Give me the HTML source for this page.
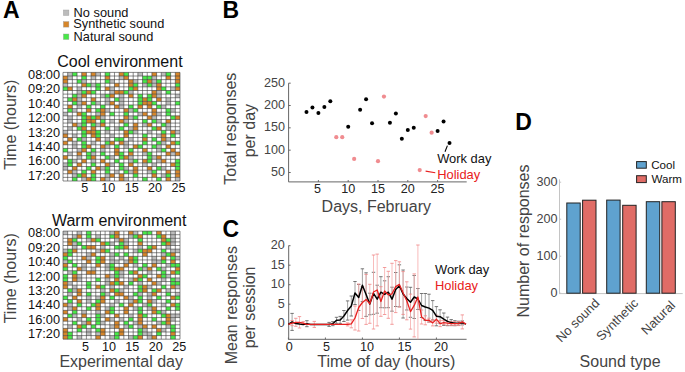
<!DOCTYPE html>
<html><head><meta charset="utf-8"><style>
html,body{margin:0;padding:0;background:#fff;}
svg{display:block;font-family:"Liberation Sans", sans-serif;}
</style></head><body>
<svg width="685" height="372" viewBox="0 0 685 372">
<rect width="685" height="372" fill="#fff"/>
<text x="2.9" y="18" font-size="23" fill="#000" text-anchor="start" font-weight="bold" >A</text>
<text x="222.5" y="18" font-size="23" fill="#000" text-anchor="start" font-weight="bold" >B</text>
<text x="222.6" y="236.9" font-size="23" fill="#000" text-anchor="start" font-weight="bold" >C</text>
<text x="515.3" y="130" font-size="23" fill="#000" text-anchor="start" font-weight="bold" >D</text>
<rect x="63.4" y="10.0" width="5.5" height="5.5" fill="#bcbcbc" stroke="#999" stroke-width="0.4"/>
<rect x="63.4" y="21.6" width="5.5" height="5.5" fill="#d6862a" stroke="#999" stroke-width="0.4"/>
<rect x="63.4" y="34.0" width="5.5" height="5.5" fill="#48e848" stroke="#999" stroke-width="0.4"/>
<text x="73.6" y="16.5" font-size="12.8" fill="#111" text-anchor="start" font-weight="normal" >No sound</text>
<text x="73.3" y="28.4" font-size="12.8" fill="#111" text-anchor="start" font-weight="normal" >Synthetic sound</text>
<text x="73.6" y="40.6" font-size="12.8" fill="#111" text-anchor="start" font-weight="normal" >Natural sound</text>
<text x="57.2" y="66.6" font-size="16" fill="#111" text-anchor="start" font-weight="normal" >Cool environment</text>
<rect x="63.0" y="72.4" width="117.0" height="108.6" fill="#fff"/>
<rect x="67.68" y="72.40" width="4.68" height="3.62" fill="#bcbcbc"/>
<rect x="72.36" y="72.40" width="4.68" height="3.62" fill="#48e848"/>
<rect x="81.72" y="72.40" width="4.68" height="3.62" fill="#d6862a"/>
<rect x="91.08" y="72.40" width="4.68" height="3.62" fill="#d6862a"/>
<rect x="95.76" y="72.40" width="4.68" height="3.62" fill="#bcbcbc"/>
<rect x="105.12" y="72.40" width="4.68" height="3.62" fill="#48e848"/>
<rect x="119.16" y="72.40" width="4.68" height="3.62" fill="#d6862a"/>
<rect x="123.84" y="72.40" width="4.68" height="3.62" fill="#48e848"/>
<rect x="137.88" y="72.40" width="4.68" height="3.62" fill="#bcbcbc"/>
<rect x="151.92" y="72.40" width="4.68" height="3.62" fill="#d6862a"/>
<rect x="161.28" y="72.40" width="4.68" height="3.62" fill="#bcbcbc"/>
<rect x="165.96" y="72.40" width="4.68" height="3.62" fill="#48e848"/>
<rect x="175.32" y="72.40" width="4.68" height="3.62" fill="#d6862a"/>
<rect x="63.00" y="76.02" width="4.68" height="3.62" fill="#d6862a"/>
<rect x="67.68" y="76.02" width="4.68" height="3.62" fill="#bcbcbc"/>
<rect x="81.72" y="76.02" width="4.68" height="3.62" fill="#48e848"/>
<rect x="91.08" y="76.02" width="4.68" height="3.62" fill="#bcbcbc"/>
<rect x="105.12" y="76.02" width="4.68" height="3.62" fill="#d6862a"/>
<rect x="119.16" y="76.02" width="4.68" height="3.62" fill="#bcbcbc"/>
<rect x="123.84" y="76.02" width="4.68" height="3.62" fill="#d6862a"/>
<rect x="142.56" y="76.02" width="4.68" height="3.62" fill="#48e848"/>
<rect x="147.24" y="76.02" width="4.68" height="3.62" fill="#48e848"/>
<rect x="151.92" y="76.02" width="4.68" height="3.62" fill="#bcbcbc"/>
<rect x="165.96" y="76.02" width="4.68" height="3.62" fill="#d6862a"/>
<rect x="175.32" y="76.02" width="4.68" height="3.62" fill="#d6862a"/>
<rect x="63.00" y="79.64" width="4.68" height="3.62" fill="#d6862a"/>
<rect x="77.04" y="79.64" width="4.68" height="3.62" fill="#48e848"/>
<rect x="81.72" y="79.64" width="4.68" height="3.62" fill="#bcbcbc"/>
<rect x="105.12" y="79.64" width="4.68" height="3.62" fill="#48e848"/>
<rect x="109.80" y="79.64" width="4.68" height="3.62" fill="#bcbcbc"/>
<rect x="128.52" y="79.64" width="4.68" height="3.62" fill="#d6862a"/>
<rect x="133.20" y="79.64" width="4.68" height="3.62" fill="#bcbcbc"/>
<rect x="142.56" y="79.64" width="4.68" height="3.62" fill="#48e848"/>
<rect x="147.24" y="79.64" width="4.68" height="3.62" fill="#d6862a"/>
<rect x="151.92" y="79.64" width="4.68" height="3.62" fill="#bcbcbc"/>
<rect x="156.60" y="79.64" width="4.68" height="3.62" fill="#48e848"/>
<rect x="175.32" y="79.64" width="4.68" height="3.62" fill="#d6862a"/>
<rect x="63.00" y="83.26" width="4.68" height="3.62" fill="#bcbcbc"/>
<rect x="81.72" y="83.26" width="4.68" height="3.62" fill="#d6862a"/>
<rect x="86.40" y="83.26" width="4.68" height="3.62" fill="#48e848"/>
<rect x="91.08" y="83.26" width="4.68" height="3.62" fill="#bcbcbc"/>
<rect x="95.76" y="83.26" width="4.68" height="3.62" fill="#48e848"/>
<rect x="114.48" y="83.26" width="4.68" height="3.62" fill="#d6862a"/>
<rect x="128.52" y="83.26" width="4.68" height="3.62" fill="#d6862a"/>
<rect x="133.20" y="83.26" width="4.68" height="3.62" fill="#48e848"/>
<rect x="142.56" y="83.26" width="4.68" height="3.62" fill="#bcbcbc"/>
<rect x="147.24" y="83.26" width="4.68" height="3.62" fill="#48e848"/>
<rect x="151.92" y="83.26" width="4.68" height="3.62" fill="#bcbcbc"/>
<rect x="156.60" y="83.26" width="4.68" height="3.62" fill="#d6862a"/>
<rect x="175.32" y="83.26" width="4.68" height="3.62" fill="#48e848"/>
<rect x="63.00" y="86.88" width="4.68" height="3.62" fill="#48e848"/>
<rect x="67.68" y="86.88" width="4.68" height="3.62" fill="#d6862a"/>
<rect x="77.04" y="86.88" width="4.68" height="3.62" fill="#bcbcbc"/>
<rect x="95.76" y="86.88" width="4.68" height="3.62" fill="#48e848"/>
<rect x="105.12" y="86.88" width="4.68" height="3.62" fill="#d6862a"/>
<rect x="109.80" y="86.88" width="4.68" height="3.62" fill="#bcbcbc"/>
<rect x="128.52" y="86.88" width="4.68" height="3.62" fill="#48e848"/>
<rect x="133.20" y="86.88" width="4.68" height="3.62" fill="#d6862a"/>
<rect x="156.60" y="86.88" width="4.68" height="3.62" fill="#d6862a"/>
<rect x="161.28" y="86.88" width="4.68" height="3.62" fill="#48e848"/>
<rect x="170.64" y="86.88" width="4.68" height="3.62" fill="#bcbcbc"/>
<rect x="175.32" y="86.88" width="4.68" height="3.62" fill="#d6862a"/>
<rect x="77.04" y="90.50" width="4.68" height="3.62" fill="#bcbcbc"/>
<rect x="81.72" y="90.50" width="4.68" height="3.62" fill="#48e848"/>
<rect x="86.40" y="90.50" width="4.68" height="3.62" fill="#d6862a"/>
<rect x="91.08" y="90.50" width="4.68" height="3.62" fill="#48e848"/>
<rect x="109.80" y="90.50" width="4.68" height="3.62" fill="#bcbcbc"/>
<rect x="114.48" y="90.50" width="4.68" height="3.62" fill="#d6862a"/>
<rect x="119.16" y="90.50" width="4.68" height="3.62" fill="#d6862a"/>
<rect x="123.84" y="90.50" width="4.68" height="3.62" fill="#48e848"/>
<rect x="128.52" y="90.50" width="4.68" height="3.62" fill="#bcbcbc"/>
<rect x="151.92" y="90.50" width="4.68" height="3.62" fill="#d6862a"/>
<rect x="156.60" y="90.50" width="4.68" height="3.62" fill="#bcbcbc"/>
<rect x="165.96" y="90.50" width="4.68" height="3.62" fill="#48e848"/>
<rect x="72.36" y="94.12" width="4.68" height="3.62" fill="#48e848"/>
<rect x="77.04" y="94.12" width="4.68" height="3.62" fill="#bcbcbc"/>
<rect x="81.72" y="94.12" width="4.68" height="3.62" fill="#d6862a"/>
<rect x="100.44" y="94.12" width="4.68" height="3.62" fill="#bcbcbc"/>
<rect x="105.12" y="94.12" width="4.68" height="3.62" fill="#48e848"/>
<rect x="109.80" y="94.12" width="4.68" height="3.62" fill="#d6862a"/>
<rect x="119.16" y="94.12" width="4.68" height="3.62" fill="#bcbcbc"/>
<rect x="128.52" y="94.12" width="4.68" height="3.62" fill="#d6862a"/>
<rect x="137.88" y="94.12" width="4.68" height="3.62" fill="#48e848"/>
<rect x="147.24" y="94.12" width="4.68" height="3.62" fill="#48e848"/>
<rect x="151.92" y="94.12" width="4.68" height="3.62" fill="#d6862a"/>
<rect x="156.60" y="94.12" width="4.68" height="3.62" fill="#bcbcbc"/>
<rect x="175.32" y="94.12" width="4.68" height="3.62" fill="#bcbcbc"/>
<rect x="67.68" y="97.74" width="4.68" height="3.62" fill="#48e848"/>
<rect x="72.36" y="97.74" width="4.68" height="3.62" fill="#d6862a"/>
<rect x="77.04" y="97.74" width="4.68" height="3.62" fill="#bcbcbc"/>
<rect x="91.08" y="97.74" width="4.68" height="3.62" fill="#d6862a"/>
<rect x="105.12" y="97.74" width="4.68" height="3.62" fill="#bcbcbc"/>
<rect x="114.48" y="97.74" width="4.68" height="3.62" fill="#48e848"/>
<rect x="119.16" y="97.74" width="4.68" height="3.62" fill="#bcbcbc"/>
<rect x="137.88" y="97.74" width="4.68" height="3.62" fill="#48e848"/>
<rect x="142.56" y="97.74" width="4.68" height="3.62" fill="#d6862a"/>
<rect x="147.24" y="97.74" width="4.68" height="3.62" fill="#48e848"/>
<rect x="156.60" y="97.74" width="4.68" height="3.62" fill="#d6862a"/>
<rect x="165.96" y="97.74" width="4.68" height="3.62" fill="#bcbcbc"/>
<rect x="72.36" y="101.36" width="4.68" height="3.62" fill="#48e848"/>
<rect x="77.04" y="101.36" width="4.68" height="3.62" fill="#bcbcbc"/>
<rect x="81.72" y="101.36" width="4.68" height="3.62" fill="#d6862a"/>
<rect x="91.08" y="101.36" width="4.68" height="3.62" fill="#48e848"/>
<rect x="95.76" y="101.36" width="4.68" height="3.62" fill="#bcbcbc"/>
<rect x="105.12" y="101.36" width="4.68" height="3.62" fill="#bcbcbc"/>
<rect x="109.80" y="101.36" width="4.68" height="3.62" fill="#d6862a"/>
<rect x="119.16" y="101.36" width="4.68" height="3.62" fill="#bcbcbc"/>
<rect x="137.88" y="101.36" width="4.68" height="3.62" fill="#48e848"/>
<rect x="142.56" y="101.36" width="4.68" height="3.62" fill="#d6862a"/>
<rect x="147.24" y="101.36" width="4.68" height="3.62" fill="#d6862a"/>
<rect x="151.92" y="101.36" width="4.68" height="3.62" fill="#48e848"/>
<rect x="165.96" y="101.36" width="4.68" height="3.62" fill="#bcbcbc"/>
<rect x="175.32" y="101.36" width="4.68" height="3.62" fill="#48e848"/>
<rect x="67.68" y="104.98" width="4.68" height="3.62" fill="#d6862a"/>
<rect x="77.04" y="104.98" width="4.68" height="3.62" fill="#bcbcbc"/>
<rect x="86.40" y="104.98" width="4.68" height="3.62" fill="#48e848"/>
<rect x="100.44" y="104.98" width="4.68" height="3.62" fill="#48e848"/>
<rect x="114.48" y="104.98" width="4.68" height="3.62" fill="#d6862a"/>
<rect x="119.16" y="104.98" width="4.68" height="3.62" fill="#bcbcbc"/>
<rect x="128.52" y="104.98" width="4.68" height="3.62" fill="#48e848"/>
<rect x="137.88" y="104.98" width="4.68" height="3.62" fill="#d6862a"/>
<rect x="147.24" y="104.98" width="4.68" height="3.62" fill="#d6862a"/>
<rect x="156.60" y="104.98" width="4.68" height="3.62" fill="#48e848"/>
<rect x="161.28" y="104.98" width="4.68" height="3.62" fill="#bcbcbc"/>
<rect x="67.68" y="108.60" width="4.68" height="3.62" fill="#48e848"/>
<rect x="72.36" y="108.60" width="4.68" height="3.62" fill="#bcbcbc"/>
<rect x="86.40" y="108.60" width="4.68" height="3.62" fill="#d6862a"/>
<rect x="95.76" y="108.60" width="4.68" height="3.62" fill="#48e848"/>
<rect x="100.44" y="108.60" width="4.68" height="3.62" fill="#d6862a"/>
<rect x="105.12" y="108.60" width="4.68" height="3.62" fill="#bcbcbc"/>
<rect x="123.84" y="108.60" width="4.68" height="3.62" fill="#d6862a"/>
<rect x="128.52" y="108.60" width="4.68" height="3.62" fill="#bcbcbc"/>
<rect x="133.20" y="108.60" width="4.68" height="3.62" fill="#48e848"/>
<rect x="151.92" y="108.60" width="4.68" height="3.62" fill="#d6862a"/>
<rect x="165.96" y="108.60" width="4.68" height="3.62" fill="#48e848"/>
<rect x="170.64" y="108.60" width="4.68" height="3.62" fill="#bcbcbc"/>
<rect x="63.00" y="112.22" width="4.68" height="3.62" fill="#bcbcbc"/>
<rect x="77.04" y="112.22" width="4.68" height="3.62" fill="#d6862a"/>
<rect x="81.72" y="112.22" width="4.68" height="3.62" fill="#48e848"/>
<rect x="95.76" y="112.22" width="4.68" height="3.62" fill="#bcbcbc"/>
<rect x="100.44" y="112.22" width="4.68" height="3.62" fill="#d6862a"/>
<rect x="109.80" y="112.22" width="4.68" height="3.62" fill="#48e848"/>
<rect x="123.84" y="112.22" width="4.68" height="3.62" fill="#48e848"/>
<rect x="137.88" y="112.22" width="4.68" height="3.62" fill="#bcbcbc"/>
<rect x="142.56" y="112.22" width="4.68" height="3.62" fill="#d6862a"/>
<rect x="151.92" y="112.22" width="4.68" height="3.62" fill="#d6862a"/>
<rect x="156.60" y="112.22" width="4.68" height="3.62" fill="#bcbcbc"/>
<rect x="165.96" y="112.22" width="4.68" height="3.62" fill="#48e848"/>
<rect x="67.68" y="115.84" width="4.68" height="3.62" fill="#bcbcbc"/>
<rect x="81.72" y="115.84" width="4.68" height="3.62" fill="#48e848"/>
<rect x="86.40" y="115.84" width="4.68" height="3.62" fill="#d6862a"/>
<rect x="91.08" y="115.84" width="4.68" height="3.62" fill="#48e848"/>
<rect x="95.76" y="115.84" width="4.68" height="3.62" fill="#d6862a"/>
<rect x="100.44" y="115.84" width="4.68" height="3.62" fill="#bcbcbc"/>
<rect x="123.84" y="115.84" width="4.68" height="3.62" fill="#d6862a"/>
<rect x="128.52" y="115.84" width="4.68" height="3.62" fill="#bcbcbc"/>
<rect x="133.20" y="115.84" width="4.68" height="3.62" fill="#48e848"/>
<rect x="147.24" y="115.84" width="4.68" height="3.62" fill="#d6862a"/>
<rect x="151.92" y="115.84" width="4.68" height="3.62" fill="#bcbcbc"/>
<rect x="170.64" y="115.84" width="4.68" height="3.62" fill="#48e848"/>
<rect x="175.32" y="115.84" width="4.68" height="3.62" fill="#d6862a"/>
<rect x="67.68" y="119.46" width="4.68" height="3.62" fill="#bcbcbc"/>
<rect x="81.72" y="119.46" width="4.68" height="3.62" fill="#48e848"/>
<rect x="86.40" y="119.46" width="4.68" height="3.62" fill="#d6862a"/>
<rect x="91.08" y="119.46" width="4.68" height="3.62" fill="#d6862a"/>
<rect x="100.44" y="119.46" width="4.68" height="3.62" fill="#48e848"/>
<rect x="109.80" y="119.46" width="4.68" height="3.62" fill="#bcbcbc"/>
<rect x="119.16" y="119.46" width="4.68" height="3.62" fill="#d6862a"/>
<rect x="123.84" y="119.46" width="4.68" height="3.62" fill="#bcbcbc"/>
<rect x="142.56" y="119.46" width="4.68" height="3.62" fill="#48e848"/>
<rect x="151.92" y="119.46" width="4.68" height="3.62" fill="#48e848"/>
<rect x="156.60" y="119.46" width="4.68" height="3.62" fill="#bcbcbc"/>
<rect x="165.96" y="119.46" width="4.68" height="3.62" fill="#d6862a"/>
<rect x="72.36" y="123.08" width="4.68" height="3.62" fill="#d6862a"/>
<rect x="77.04" y="123.08" width="4.68" height="3.62" fill="#bcbcbc"/>
<rect x="81.72" y="123.08" width="4.68" height="3.62" fill="#48e848"/>
<rect x="91.08" y="123.08" width="4.68" height="3.62" fill="#48e848"/>
<rect x="95.76" y="123.08" width="4.68" height="3.62" fill="#bcbcbc"/>
<rect x="100.44" y="123.08" width="4.68" height="3.62" fill="#d6862a"/>
<rect x="123.84" y="123.08" width="4.68" height="3.62" fill="#48e848"/>
<rect x="133.20" y="123.08" width="4.68" height="3.62" fill="#d6862a"/>
<rect x="142.56" y="123.08" width="4.68" height="3.62" fill="#bcbcbc"/>
<rect x="147.24" y="123.08" width="4.68" height="3.62" fill="#d6862a"/>
<rect x="161.28" y="123.08" width="4.68" height="3.62" fill="#48e848"/>
<rect x="165.96" y="123.08" width="4.68" height="3.62" fill="#bcbcbc"/>
<rect x="67.68" y="126.70" width="4.68" height="3.62" fill="#bcbcbc"/>
<rect x="77.04" y="126.70" width="4.68" height="3.62" fill="#48e848"/>
<rect x="81.72" y="126.70" width="4.68" height="3.62" fill="#d6862a"/>
<rect x="91.08" y="126.70" width="4.68" height="3.62" fill="#d6862a"/>
<rect x="105.12" y="126.70" width="4.68" height="3.62" fill="#48e848"/>
<rect x="114.48" y="126.70" width="4.68" height="3.62" fill="#bcbcbc"/>
<rect x="119.16" y="126.70" width="4.68" height="3.62" fill="#48e848"/>
<rect x="128.52" y="126.70" width="4.68" height="3.62" fill="#bcbcbc"/>
<rect x="133.20" y="126.70" width="4.68" height="3.62" fill="#d6862a"/>
<rect x="151.92" y="126.70" width="4.68" height="3.62" fill="#48e848"/>
<rect x="156.60" y="126.70" width="4.68" height="3.62" fill="#d6862a"/>
<rect x="165.96" y="126.70" width="4.68" height="3.62" fill="#bcbcbc"/>
<rect x="63.00" y="130.32" width="4.68" height="3.62" fill="#bcbcbc"/>
<rect x="81.72" y="130.32" width="4.68" height="3.62" fill="#48e848"/>
<rect x="86.40" y="130.32" width="4.68" height="3.62" fill="#d6862a"/>
<rect x="91.08" y="130.32" width="4.68" height="3.62" fill="#d6862a"/>
<rect x="95.76" y="130.32" width="4.68" height="3.62" fill="#48e848"/>
<rect x="105.12" y="130.32" width="4.68" height="3.62" fill="#bcbcbc"/>
<rect x="123.84" y="130.32" width="4.68" height="3.62" fill="#d6862a"/>
<rect x="128.52" y="130.32" width="4.68" height="3.62" fill="#48e848"/>
<rect x="133.20" y="130.32" width="4.68" height="3.62" fill="#bcbcbc"/>
<rect x="147.24" y="130.32" width="4.68" height="3.62" fill="#bcbcbc"/>
<rect x="161.28" y="130.32" width="4.68" height="3.62" fill="#48e848"/>
<rect x="170.64" y="130.32" width="4.68" height="3.62" fill="#d6862a"/>
<rect x="175.32" y="130.32" width="4.68" height="3.62" fill="#bcbcbc"/>
<rect x="63.00" y="133.94" width="4.68" height="3.62" fill="#d6862a"/>
<rect x="72.36" y="133.94" width="4.68" height="3.62" fill="#bcbcbc"/>
<rect x="81.72" y="133.94" width="4.68" height="3.62" fill="#48e848"/>
<rect x="91.08" y="133.94" width="4.68" height="3.62" fill="#d6862a"/>
<rect x="95.76" y="133.94" width="4.68" height="3.62" fill="#48e848"/>
<rect x="109.80" y="133.94" width="4.68" height="3.62" fill="#bcbcbc"/>
<rect x="123.84" y="133.94" width="4.68" height="3.62" fill="#d6862a"/>
<rect x="142.56" y="133.94" width="4.68" height="3.62" fill="#48e848"/>
<rect x="156.60" y="133.94" width="4.68" height="3.62" fill="#bcbcbc"/>
<rect x="161.28" y="133.94" width="4.68" height="3.62" fill="#d6862a"/>
<rect x="170.64" y="133.94" width="4.68" height="3.62" fill="#48e848"/>
<rect x="67.68" y="137.56" width="4.68" height="3.62" fill="#d6862a"/>
<rect x="77.04" y="137.56" width="4.68" height="3.62" fill="#48e848"/>
<rect x="81.72" y="137.56" width="4.68" height="3.62" fill="#bcbcbc"/>
<rect x="95.76" y="137.56" width="4.68" height="3.62" fill="#d6862a"/>
<rect x="105.12" y="137.56" width="4.68" height="3.62" fill="#bcbcbc"/>
<rect x="114.48" y="137.56" width="4.68" height="3.62" fill="#48e848"/>
<rect x="119.16" y="137.56" width="4.68" height="3.62" fill="#48e848"/>
<rect x="128.52" y="137.56" width="4.68" height="3.62" fill="#bcbcbc"/>
<rect x="142.56" y="137.56" width="4.68" height="3.62" fill="#d6862a"/>
<rect x="151.92" y="137.56" width="4.68" height="3.62" fill="#48e848"/>
<rect x="161.28" y="137.56" width="4.68" height="3.62" fill="#d6862a"/>
<rect x="165.96" y="137.56" width="4.68" height="3.62" fill="#bcbcbc"/>
<rect x="63.00" y="141.18" width="4.68" height="3.62" fill="#d6862a"/>
<rect x="72.36" y="141.18" width="4.68" height="3.62" fill="#bcbcbc"/>
<rect x="81.72" y="141.18" width="4.68" height="3.62" fill="#48e848"/>
<rect x="91.08" y="141.18" width="4.68" height="3.62" fill="#bcbcbc"/>
<rect x="105.12" y="141.18" width="4.68" height="3.62" fill="#48e848"/>
<rect x="109.80" y="141.18" width="4.68" height="3.62" fill="#d6862a"/>
<rect x="119.16" y="141.18" width="4.68" height="3.62" fill="#d6862a"/>
<rect x="123.84" y="141.18" width="4.68" height="3.62" fill="#bcbcbc"/>
<rect x="142.56" y="141.18" width="4.68" height="3.62" fill="#48e848"/>
<rect x="156.60" y="141.18" width="4.68" height="3.62" fill="#48e848"/>
<rect x="161.28" y="141.18" width="4.68" height="3.62" fill="#bcbcbc"/>
<rect x="170.64" y="141.18" width="4.68" height="3.62" fill="#d6862a"/>
<rect x="175.32" y="141.18" width="4.68" height="3.62" fill="#48e848"/>
<rect x="72.36" y="144.80" width="4.68" height="3.62" fill="#bcbcbc"/>
<rect x="81.72" y="144.80" width="4.68" height="3.62" fill="#48e848"/>
<rect x="86.40" y="144.80" width="4.68" height="3.62" fill="#d6862a"/>
<rect x="100.44" y="144.80" width="4.68" height="3.62" fill="#d6862a"/>
<rect x="105.12" y="144.80" width="4.68" height="3.62" fill="#bcbcbc"/>
<rect x="114.48" y="144.80" width="4.68" height="3.62" fill="#48e848"/>
<rect x="123.84" y="144.80" width="4.68" height="3.62" fill="#bcbcbc"/>
<rect x="133.20" y="144.80" width="4.68" height="3.62" fill="#d6862a"/>
<rect x="137.88" y="144.80" width="4.68" height="3.62" fill="#48e848"/>
<rect x="151.92" y="144.80" width="4.68" height="3.62" fill="#48e848"/>
<rect x="156.60" y="144.80" width="4.68" height="3.62" fill="#bcbcbc"/>
<rect x="165.96" y="144.80" width="4.68" height="3.62" fill="#d6862a"/>
<rect x="63.00" y="148.42" width="4.68" height="3.62" fill="#48e848"/>
<rect x="77.04" y="148.42" width="4.68" height="3.62" fill="#bcbcbc"/>
<rect x="81.72" y="148.42" width="4.68" height="3.62" fill="#d6862a"/>
<rect x="91.08" y="148.42" width="4.68" height="3.62" fill="#48e848"/>
<rect x="100.44" y="148.42" width="4.68" height="3.62" fill="#bcbcbc"/>
<rect x="114.48" y="148.42" width="4.68" height="3.62" fill="#d6862a"/>
<rect x="128.52" y="148.42" width="4.68" height="3.62" fill="#48e848"/>
<rect x="142.56" y="148.42" width="4.68" height="3.62" fill="#d6862a"/>
<rect x="156.60" y="148.42" width="4.68" height="3.62" fill="#bcbcbc"/>
<rect x="161.28" y="148.42" width="4.68" height="3.62" fill="#48e848"/>
<rect x="170.64" y="148.42" width="4.68" height="3.62" fill="#d6862a"/>
<rect x="67.68" y="152.04" width="4.68" height="3.62" fill="#bcbcbc"/>
<rect x="77.04" y="152.04" width="4.68" height="3.62" fill="#d6862a"/>
<rect x="86.40" y="152.04" width="4.68" height="3.62" fill="#48e848"/>
<rect x="91.08" y="152.04" width="4.68" height="3.62" fill="#bcbcbc"/>
<rect x="100.44" y="152.04" width="4.68" height="3.62" fill="#48e848"/>
<rect x="114.48" y="152.04" width="4.68" height="3.62" fill="#d6862a"/>
<rect x="119.16" y="152.04" width="4.68" height="3.62" fill="#48e848"/>
<rect x="128.52" y="152.04" width="4.68" height="3.62" fill="#d6862a"/>
<rect x="142.56" y="152.04" width="4.68" height="3.62" fill="#bcbcbc"/>
<rect x="147.24" y="152.04" width="4.68" height="3.62" fill="#48e848"/>
<rect x="165.96" y="152.04" width="4.68" height="3.62" fill="#d6862a"/>
<rect x="170.64" y="152.04" width="4.68" height="3.62" fill="#bcbcbc"/>
<rect x="175.32" y="152.04" width="4.68" height="3.62" fill="#d6862a"/>
<rect x="63.00" y="155.66" width="4.68" height="3.62" fill="#d6862a"/>
<rect x="77.04" y="155.66" width="4.68" height="3.62" fill="#bcbcbc"/>
<rect x="86.40" y="155.66" width="4.68" height="3.62" fill="#48e848"/>
<rect x="91.08" y="155.66" width="4.68" height="3.62" fill="#d6862a"/>
<rect x="105.12" y="155.66" width="4.68" height="3.62" fill="#48e848"/>
<rect x="109.80" y="155.66" width="4.68" height="3.62" fill="#bcbcbc"/>
<rect x="119.16" y="155.66" width="4.68" height="3.62" fill="#48e848"/>
<rect x="123.84" y="155.66" width="4.68" height="3.62" fill="#d6862a"/>
<rect x="128.52" y="155.66" width="4.68" height="3.62" fill="#bcbcbc"/>
<rect x="147.24" y="155.66" width="4.68" height="3.62" fill="#48e848"/>
<rect x="151.92" y="155.66" width="4.68" height="3.62" fill="#bcbcbc"/>
<rect x="156.60" y="155.66" width="4.68" height="3.62" fill="#d6862a"/>
<rect x="67.68" y="159.28" width="4.68" height="3.62" fill="#48e848"/>
<rect x="72.36" y="159.28" width="4.68" height="3.62" fill="#bcbcbc"/>
<rect x="81.72" y="159.28" width="4.68" height="3.62" fill="#d6862a"/>
<rect x="91.08" y="159.28" width="4.68" height="3.62" fill="#bcbcbc"/>
<rect x="100.44" y="159.28" width="4.68" height="3.62" fill="#d6862a"/>
<rect x="114.48" y="159.28" width="4.68" height="3.62" fill="#48e848"/>
<rect x="128.52" y="159.28" width="4.68" height="3.62" fill="#bcbcbc"/>
<rect x="133.20" y="159.28" width="4.68" height="3.62" fill="#48e848"/>
<rect x="142.56" y="159.28" width="4.68" height="3.62" fill="#d6862a"/>
<rect x="147.24" y="159.28" width="4.68" height="3.62" fill="#48e848"/>
<rect x="156.60" y="159.28" width="4.68" height="3.62" fill="#bcbcbc"/>
<rect x="161.28" y="159.28" width="4.68" height="3.62" fill="#d6862a"/>
<rect x="175.32" y="159.28" width="4.68" height="3.62" fill="#48e848"/>
<rect x="63.00" y="162.90" width="4.68" height="3.62" fill="#bcbcbc"/>
<rect x="67.68" y="162.90" width="4.68" height="3.62" fill="#48e848"/>
<rect x="77.04" y="162.90" width="4.68" height="3.62" fill="#d6862a"/>
<rect x="91.08" y="162.90" width="4.68" height="3.62" fill="#48e848"/>
<rect x="105.12" y="162.90" width="4.68" height="3.62" fill="#d6862a"/>
<rect x="109.80" y="162.90" width="4.68" height="3.62" fill="#bcbcbc"/>
<rect x="119.16" y="162.90" width="4.68" height="3.62" fill="#48e848"/>
<rect x="128.52" y="162.90" width="4.68" height="3.62" fill="#d6862a"/>
<rect x="142.56" y="162.90" width="4.68" height="3.62" fill="#bcbcbc"/>
<rect x="151.92" y="162.90" width="4.68" height="3.62" fill="#bcbcbc"/>
<rect x="170.64" y="162.90" width="4.68" height="3.62" fill="#d6862a"/>
<rect x="175.32" y="162.90" width="4.68" height="3.62" fill="#48e848"/>
<rect x="63.00" y="166.52" width="4.68" height="3.62" fill="#bcbcbc"/>
<rect x="72.36" y="166.52" width="4.68" height="3.62" fill="#d6862a"/>
<rect x="86.40" y="166.52" width="4.68" height="3.62" fill="#48e848"/>
<rect x="95.76" y="166.52" width="4.68" height="3.62" fill="#d6862a"/>
<rect x="100.44" y="166.52" width="4.68" height="3.62" fill="#bcbcbc"/>
<rect x="105.12" y="166.52" width="4.68" height="3.62" fill="#48e848"/>
<rect x="119.16" y="166.52" width="4.68" height="3.62" fill="#48e848"/>
<rect x="123.84" y="166.52" width="4.68" height="3.62" fill="#bcbcbc"/>
<rect x="133.20" y="166.52" width="4.68" height="3.62" fill="#d6862a"/>
<rect x="147.24" y="166.52" width="4.68" height="3.62" fill="#d6862a"/>
<rect x="156.60" y="166.52" width="4.68" height="3.62" fill="#48e848"/>
<rect x="161.28" y="166.52" width="4.68" height="3.62" fill="#bcbcbc"/>
<rect x="175.32" y="166.52" width="4.68" height="3.62" fill="#48e848"/>
<rect x="67.68" y="170.14" width="4.68" height="3.62" fill="#d6862a"/>
<rect x="72.36" y="170.14" width="4.68" height="3.62" fill="#bcbcbc"/>
<rect x="81.72" y="170.14" width="4.68" height="3.62" fill="#48e848"/>
<rect x="91.08" y="170.14" width="4.68" height="3.62" fill="#d6862a"/>
<rect x="105.12" y="170.14" width="4.68" height="3.62" fill="#48e848"/>
<rect x="114.48" y="170.14" width="4.68" height="3.62" fill="#bcbcbc"/>
<rect x="123.84" y="170.14" width="4.68" height="3.62" fill="#48e848"/>
<rect x="128.52" y="170.14" width="4.68" height="3.62" fill="#bcbcbc"/>
<rect x="133.20" y="170.14" width="4.68" height="3.62" fill="#d6862a"/>
<rect x="147.24" y="170.14" width="4.68" height="3.62" fill="#bcbcbc"/>
<rect x="151.92" y="170.14" width="4.68" height="3.62" fill="#48e848"/>
<rect x="165.96" y="170.14" width="4.68" height="3.62" fill="#d6862a"/>
<rect x="175.32" y="170.14" width="4.68" height="3.62" fill="#d6862a"/>
<rect x="72.36" y="173.76" width="4.68" height="3.62" fill="#bcbcbc"/>
<rect x="77.04" y="173.76" width="4.68" height="3.62" fill="#48e848"/>
<rect x="81.72" y="173.76" width="4.68" height="3.62" fill="#d6862a"/>
<rect x="91.08" y="173.76" width="4.68" height="3.62" fill="#48e848"/>
<rect x="105.12" y="173.76" width="4.68" height="3.62" fill="#bcbcbc"/>
<rect x="109.80" y="173.76" width="4.68" height="3.62" fill="#d6862a"/>
<rect x="119.16" y="173.76" width="4.68" height="3.62" fill="#d6862a"/>
<rect x="133.20" y="173.76" width="4.68" height="3.62" fill="#48e848"/>
<rect x="151.92" y="173.76" width="4.68" height="3.62" fill="#d6862a"/>
<rect x="161.28" y="173.76" width="4.68" height="3.62" fill="#bcbcbc"/>
<rect x="165.96" y="173.76" width="4.68" height="3.62" fill="#48e848"/>
<rect x="175.32" y="173.76" width="4.68" height="3.62" fill="#d6862a"/>
<rect x="72.36" y="177.38" width="4.68" height="3.62" fill="#48e848"/>
<rect x="81.72" y="177.38" width="4.68" height="3.62" fill="#bcbcbc"/>
<rect x="86.40" y="177.38" width="4.68" height="3.62" fill="#d6862a"/>
<rect x="91.08" y="177.38" width="4.68" height="3.62" fill="#48e848"/>
<rect x="100.44" y="177.38" width="4.68" height="3.62" fill="#d6862a"/>
<rect x="105.12" y="177.38" width="4.68" height="3.62" fill="#bcbcbc"/>
<rect x="119.16" y="177.38" width="4.68" height="3.62" fill="#d6862a"/>
<rect x="123.84" y="177.38" width="4.68" height="3.62" fill="#bcbcbc"/>
<rect x="142.56" y="177.38" width="4.68" height="3.62" fill="#48e848"/>
<rect x="156.60" y="177.38" width="4.68" height="3.62" fill="#48e848"/>
<rect x="165.96" y="177.38" width="4.68" height="3.62" fill="#d6862a"/>
<rect x="175.32" y="177.38" width="4.68" height="3.62" fill="#bcbcbc"/>
<line x1="63.00" y1="72.40" x2="63.00" y2="181.00" stroke="#3a3a3a" stroke-width="0.6" />
<line x1="67.68" y1="72.40" x2="67.68" y2="181.00" stroke="#3a3a3a" stroke-width="0.6" />
<line x1="72.36" y1="72.40" x2="72.36" y2="181.00" stroke="#3a3a3a" stroke-width="0.6" />
<line x1="77.04" y1="72.40" x2="77.04" y2="181.00" stroke="#3a3a3a" stroke-width="0.6" />
<line x1="81.72" y1="72.40" x2="81.72" y2="181.00" stroke="#3a3a3a" stroke-width="0.6" />
<line x1="86.40" y1="72.40" x2="86.40" y2="181.00" stroke="#3a3a3a" stroke-width="0.6" />
<line x1="91.08" y1="72.40" x2="91.08" y2="181.00" stroke="#3a3a3a" stroke-width="0.6" />
<line x1="95.76" y1="72.40" x2="95.76" y2="181.00" stroke="#3a3a3a" stroke-width="0.6" />
<line x1="100.44" y1="72.40" x2="100.44" y2="181.00" stroke="#3a3a3a" stroke-width="0.6" />
<line x1="105.12" y1="72.40" x2="105.12" y2="181.00" stroke="#3a3a3a" stroke-width="0.6" />
<line x1="109.80" y1="72.40" x2="109.80" y2="181.00" stroke="#3a3a3a" stroke-width="0.6" />
<line x1="114.48" y1="72.40" x2="114.48" y2="181.00" stroke="#3a3a3a" stroke-width="0.6" />
<line x1="119.16" y1="72.40" x2="119.16" y2="181.00" stroke="#3a3a3a" stroke-width="0.6" />
<line x1="123.84" y1="72.40" x2="123.84" y2="181.00" stroke="#3a3a3a" stroke-width="0.6" />
<line x1="128.52" y1="72.40" x2="128.52" y2="181.00" stroke="#3a3a3a" stroke-width="0.6" />
<line x1="133.20" y1="72.40" x2="133.20" y2="181.00" stroke="#3a3a3a" stroke-width="0.6" />
<line x1="137.88" y1="72.40" x2="137.88" y2="181.00" stroke="#3a3a3a" stroke-width="0.6" />
<line x1="142.56" y1="72.40" x2="142.56" y2="181.00" stroke="#3a3a3a" stroke-width="0.6" />
<line x1="147.24" y1="72.40" x2="147.24" y2="181.00" stroke="#3a3a3a" stroke-width="0.6" />
<line x1="151.92" y1="72.40" x2="151.92" y2="181.00" stroke="#3a3a3a" stroke-width="0.6" />
<line x1="156.60" y1="72.40" x2="156.60" y2="181.00" stroke="#3a3a3a" stroke-width="0.6" />
<line x1="161.28" y1="72.40" x2="161.28" y2="181.00" stroke="#3a3a3a" stroke-width="0.6" />
<line x1="165.96" y1="72.40" x2="165.96" y2="181.00" stroke="#3a3a3a" stroke-width="0.6" />
<line x1="170.64" y1="72.40" x2="170.64" y2="181.00" stroke="#3a3a3a" stroke-width="0.6" />
<line x1="175.32" y1="72.40" x2="175.32" y2="181.00" stroke="#3a3a3a" stroke-width="0.6" />
<line x1="180.00" y1="72.40" x2="180.00" y2="181.00" stroke="#3a3a3a" stroke-width="0.6" />
<line x1="63.00" y1="72.40" x2="180.00" y2="72.40" stroke="#3a3a3a" stroke-width="0.6" />
<line x1="63.00" y1="76.02" x2="180.00" y2="76.02" stroke="#3a3a3a" stroke-width="0.6" />
<line x1="63.00" y1="79.64" x2="180.00" y2="79.64" stroke="#3a3a3a" stroke-width="0.6" />
<line x1="63.00" y1="83.26" x2="180.00" y2="83.26" stroke="#3a3a3a" stroke-width="0.6" />
<line x1="63.00" y1="86.88" x2="180.00" y2="86.88" stroke="#3a3a3a" stroke-width="0.6" />
<line x1="63.00" y1="90.50" x2="180.00" y2="90.50" stroke="#3a3a3a" stroke-width="0.6" />
<line x1="63.00" y1="94.12" x2="180.00" y2="94.12" stroke="#3a3a3a" stroke-width="0.6" />
<line x1="63.00" y1="97.74" x2="180.00" y2="97.74" stroke="#3a3a3a" stroke-width="0.6" />
<line x1="63.00" y1="101.36" x2="180.00" y2="101.36" stroke="#3a3a3a" stroke-width="0.6" />
<line x1="63.00" y1="104.98" x2="180.00" y2="104.98" stroke="#3a3a3a" stroke-width="0.6" />
<line x1="63.00" y1="108.60" x2="180.00" y2="108.60" stroke="#3a3a3a" stroke-width="0.6" />
<line x1="63.00" y1="112.22" x2="180.00" y2="112.22" stroke="#3a3a3a" stroke-width="0.6" />
<line x1="63.00" y1="115.84" x2="180.00" y2="115.84" stroke="#3a3a3a" stroke-width="0.6" />
<line x1="63.00" y1="119.46" x2="180.00" y2="119.46" stroke="#3a3a3a" stroke-width="0.6" />
<line x1="63.00" y1="123.08" x2="180.00" y2="123.08" stroke="#3a3a3a" stroke-width="0.6" />
<line x1="63.00" y1="126.70" x2="180.00" y2="126.70" stroke="#3a3a3a" stroke-width="0.6" />
<line x1="63.00" y1="130.32" x2="180.00" y2="130.32" stroke="#3a3a3a" stroke-width="0.6" />
<line x1="63.00" y1="133.94" x2="180.00" y2="133.94" stroke="#3a3a3a" stroke-width="0.6" />
<line x1="63.00" y1="137.56" x2="180.00" y2="137.56" stroke="#3a3a3a" stroke-width="0.6" />
<line x1="63.00" y1="141.18" x2="180.00" y2="141.18" stroke="#3a3a3a" stroke-width="0.6" />
<line x1="63.00" y1="144.80" x2="180.00" y2="144.80" stroke="#3a3a3a" stroke-width="0.6" />
<line x1="63.00" y1="148.42" x2="180.00" y2="148.42" stroke="#3a3a3a" stroke-width="0.6" />
<line x1="63.00" y1="152.04" x2="180.00" y2="152.04" stroke="#3a3a3a" stroke-width="0.6" />
<line x1="63.00" y1="155.66" x2="180.00" y2="155.66" stroke="#3a3a3a" stroke-width="0.6" />
<line x1="63.00" y1="159.28" x2="180.00" y2="159.28" stroke="#3a3a3a" stroke-width="0.6" />
<line x1="63.00" y1="162.90" x2="180.00" y2="162.90" stroke="#3a3a3a" stroke-width="0.6" />
<line x1="63.00" y1="166.52" x2="180.00" y2="166.52" stroke="#3a3a3a" stroke-width="0.6" />
<line x1="63.00" y1="170.14" x2="180.00" y2="170.14" stroke="#3a3a3a" stroke-width="0.6" />
<line x1="63.00" y1="173.76" x2="180.00" y2="173.76" stroke="#3a3a3a" stroke-width="0.6" />
<line x1="63.00" y1="177.38" x2="180.00" y2="177.38" stroke="#3a3a3a" stroke-width="0.6" />
<line x1="63.00" y1="181.00" x2="180.00" y2="181.00" stroke="#3a3a3a" stroke-width="0.6" />
<text x="60.1" y="78.61000000000001" font-size="12.8" fill="#111" text-anchor="end" font-weight="normal" >08:00</text>
<text x="60.1" y="93.09" font-size="12.8" fill="#111" text-anchor="end" font-weight="normal" >09:20</text>
<text x="60.1" y="107.57000000000001" font-size="12.8" fill="#111" text-anchor="end" font-weight="normal" >10:40</text>
<text x="60.1" y="122.05000000000001" font-size="12.8" fill="#111" text-anchor="end" font-weight="normal" >12:00</text>
<text x="60.1" y="136.53" font-size="12.8" fill="#111" text-anchor="end" font-weight="normal" >13:20</text>
<text x="60.1" y="151.01000000000002" font-size="12.8" fill="#111" text-anchor="end" font-weight="normal" >14:40</text>
<text x="60.1" y="165.49" font-size="12.8" fill="#111" text-anchor="end" font-weight="normal" >16:00</text>
<text x="60.1" y="179.97" font-size="12.8" fill="#111" text-anchor="end" font-weight="normal" >17:20</text>
<text x="84.86" y="191.8" font-size="12.6" fill="#111" text-anchor="middle" font-weight="normal" >5</text>
<text x="108.25999999999999" y="191.8" font-size="12.6" fill="#111" text-anchor="middle" font-weight="normal" >10</text>
<text x="131.66000000000003" y="191.8" font-size="12.6" fill="#111" text-anchor="middle" font-weight="normal" >15</text>
<text x="155.06" y="191.8" font-size="12.6" fill="#111" text-anchor="middle" font-weight="normal" >20</text>
<text x="178.46" y="191.8" font-size="12.6" fill="#111" text-anchor="middle" font-weight="normal" >25</text>
<text transform="translate(15.5,124.6) rotate(-90)" font-size="16" fill="#444" text-anchor="middle">Time (hours)</text>
<text x="51.9" y="225.8" font-size="16" fill="#111" text-anchor="start" font-weight="normal" >Warm environment</text>
<rect x="63.0" y="231.1" width="117.0" height="108.1" fill="#fff"/>
<rect x="63.00" y="231.10" width="4.68" height="3.60" fill="#bcbcbc"/>
<rect x="77.04" y="231.10" width="4.68" height="3.60" fill="#bcbcbc"/>
<rect x="86.40" y="231.10" width="4.68" height="3.60" fill="#48e848"/>
<rect x="109.80" y="231.10" width="4.68" height="3.60" fill="#bcbcbc"/>
<rect x="114.48" y="231.10" width="4.68" height="3.60" fill="#d6862a"/>
<rect x="128.52" y="231.10" width="4.68" height="3.60" fill="#d6862a"/>
<rect x="133.20" y="231.10" width="4.68" height="3.60" fill="#bcbcbc"/>
<rect x="142.56" y="231.10" width="4.68" height="3.60" fill="#48e848"/>
<rect x="147.24" y="231.10" width="4.68" height="3.60" fill="#48e848"/>
<rect x="156.60" y="231.10" width="4.68" height="3.60" fill="#d6862a"/>
<rect x="170.64" y="231.10" width="4.68" height="3.60" fill="#bcbcbc"/>
<rect x="72.36" y="234.70" width="4.68" height="3.60" fill="#bcbcbc"/>
<rect x="77.04" y="234.70" width="4.68" height="3.60" fill="#d6862a"/>
<rect x="86.40" y="234.70" width="4.68" height="3.60" fill="#48e848"/>
<rect x="95.76" y="234.70" width="4.68" height="3.60" fill="#bcbcbc"/>
<rect x="109.80" y="234.70" width="4.68" height="3.60" fill="#48e848"/>
<rect x="114.48" y="234.70" width="4.68" height="3.60" fill="#d6862a"/>
<rect x="128.52" y="234.70" width="4.68" height="3.60" fill="#bcbcbc"/>
<rect x="133.20" y="234.70" width="4.68" height="3.60" fill="#48e848"/>
<rect x="137.88" y="234.70" width="4.68" height="3.60" fill="#d6862a"/>
<rect x="156.60" y="234.70" width="4.68" height="3.60" fill="#48e848"/>
<rect x="161.28" y="234.70" width="4.68" height="3.60" fill="#d6862a"/>
<rect x="170.64" y="234.70" width="4.68" height="3.60" fill="#bcbcbc"/>
<rect x="67.68" y="238.31" width="4.68" height="3.60" fill="#d6862a"/>
<rect x="72.36" y="238.31" width="4.68" height="3.60" fill="#48e848"/>
<rect x="86.40" y="238.31" width="4.68" height="3.60" fill="#bcbcbc"/>
<rect x="91.08" y="238.31" width="4.68" height="3.60" fill="#d6862a"/>
<rect x="95.76" y="238.31" width="4.68" height="3.60" fill="#48e848"/>
<rect x="114.48" y="238.31" width="4.68" height="3.60" fill="#bcbcbc"/>
<rect x="119.16" y="238.31" width="4.68" height="3.60" fill="#d6862a"/>
<rect x="123.84" y="238.31" width="4.68" height="3.60" fill="#bcbcbc"/>
<rect x="137.88" y="238.31" width="4.68" height="3.60" fill="#48e848"/>
<rect x="161.28" y="238.31" width="4.68" height="3.60" fill="#d6862a"/>
<rect x="165.96" y="238.31" width="4.68" height="3.60" fill="#48e848"/>
<rect x="170.64" y="238.31" width="4.68" height="3.60" fill="#bcbcbc"/>
<rect x="67.68" y="241.91" width="4.68" height="3.60" fill="#d6862a"/>
<rect x="72.36" y="241.91" width="4.68" height="3.60" fill="#bcbcbc"/>
<rect x="77.04" y="241.91" width="4.68" height="3.60" fill="#48e848"/>
<rect x="100.44" y="241.91" width="4.68" height="3.60" fill="#d6862a"/>
<rect x="105.12" y="241.91" width="4.68" height="3.60" fill="#48e848"/>
<rect x="109.80" y="241.91" width="4.68" height="3.60" fill="#bcbcbc"/>
<rect x="119.16" y="241.91" width="4.68" height="3.60" fill="#48e848"/>
<rect x="123.84" y="241.91" width="4.68" height="3.60" fill="#bcbcbc"/>
<rect x="137.88" y="241.91" width="4.68" height="3.60" fill="#d6862a"/>
<rect x="161.28" y="241.91" width="4.68" height="3.60" fill="#48e848"/>
<rect x="165.96" y="241.91" width="4.68" height="3.60" fill="#d6862a"/>
<rect x="170.64" y="241.91" width="4.68" height="3.60" fill="#bcbcbc"/>
<rect x="72.36" y="245.51" width="4.68" height="3.60" fill="#bcbcbc"/>
<rect x="81.72" y="245.51" width="4.68" height="3.60" fill="#48e848"/>
<rect x="86.40" y="245.51" width="4.68" height="3.60" fill="#d6862a"/>
<rect x="91.08" y="245.51" width="4.68" height="3.60" fill="#d6862a"/>
<rect x="100.44" y="245.51" width="4.68" height="3.60" fill="#bcbcbc"/>
<rect x="114.48" y="245.51" width="4.68" height="3.60" fill="#48e848"/>
<rect x="119.16" y="245.51" width="4.68" height="3.60" fill="#48e848"/>
<rect x="123.84" y="245.51" width="4.68" height="3.60" fill="#d6862a"/>
<rect x="137.88" y="245.51" width="4.68" height="3.60" fill="#bcbcbc"/>
<rect x="147.24" y="245.51" width="4.68" height="3.60" fill="#48e848"/>
<rect x="151.92" y="245.51" width="4.68" height="3.60" fill="#d6862a"/>
<rect x="165.96" y="245.51" width="4.68" height="3.60" fill="#bcbcbc"/>
<rect x="63.00" y="249.12" width="4.68" height="3.60" fill="#bcbcbc"/>
<rect x="67.68" y="249.12" width="4.68" height="3.60" fill="#48e848"/>
<rect x="72.36" y="249.12" width="4.68" height="3.60" fill="#d6862a"/>
<rect x="95.76" y="249.12" width="4.68" height="3.60" fill="#bcbcbc"/>
<rect x="100.44" y="249.12" width="4.68" height="3.60" fill="#d6862a"/>
<rect x="105.12" y="249.12" width="4.68" height="3.60" fill="#48e848"/>
<rect x="133.20" y="249.12" width="4.68" height="3.60" fill="#bcbcbc"/>
<rect x="137.88" y="249.12" width="4.68" height="3.60" fill="#48e848"/>
<rect x="142.56" y="249.12" width="4.68" height="3.60" fill="#d6862a"/>
<rect x="147.24" y="249.12" width="4.68" height="3.60" fill="#d6862a"/>
<rect x="161.28" y="249.12" width="4.68" height="3.60" fill="#48e848"/>
<rect x="170.64" y="249.12" width="4.68" height="3.60" fill="#bcbcbc"/>
<rect x="175.32" y="249.12" width="4.68" height="3.60" fill="#bcbcbc"/>
<rect x="63.00" y="252.72" width="4.68" height="3.60" fill="#d6862a"/>
<rect x="67.68" y="252.72" width="4.68" height="3.60" fill="#48e848"/>
<rect x="86.40" y="252.72" width="4.68" height="3.60" fill="#bcbcbc"/>
<rect x="91.08" y="252.72" width="4.68" height="3.60" fill="#d6862a"/>
<rect x="109.80" y="252.72" width="4.68" height="3.60" fill="#bcbcbc"/>
<rect x="114.48" y="252.72" width="4.68" height="3.60" fill="#48e848"/>
<rect x="123.84" y="252.72" width="4.68" height="3.60" fill="#48e848"/>
<rect x="142.56" y="252.72" width="4.68" height="3.60" fill="#d6862a"/>
<rect x="161.28" y="252.72" width="4.68" height="3.60" fill="#bcbcbc"/>
<rect x="165.96" y="252.72" width="4.68" height="3.60" fill="#48e848"/>
<rect x="170.64" y="252.72" width="4.68" height="3.60" fill="#d6862a"/>
<rect x="63.00" y="256.32" width="4.68" height="3.60" fill="#48e848"/>
<rect x="81.72" y="256.32" width="4.68" height="3.60" fill="#d6862a"/>
<rect x="86.40" y="256.32" width="4.68" height="3.60" fill="#bcbcbc"/>
<rect x="95.76" y="256.32" width="4.68" height="3.60" fill="#48e848"/>
<rect x="100.44" y="256.32" width="4.68" height="3.60" fill="#d6862a"/>
<rect x="109.80" y="256.32" width="4.68" height="3.60" fill="#bcbcbc"/>
<rect x="119.16" y="256.32" width="4.68" height="3.60" fill="#bcbcbc"/>
<rect x="128.52" y="256.32" width="4.68" height="3.60" fill="#d6862a"/>
<rect x="133.20" y="256.32" width="4.68" height="3.60" fill="#48e848"/>
<rect x="151.92" y="256.32" width="4.68" height="3.60" fill="#bcbcbc"/>
<rect x="161.28" y="256.32" width="4.68" height="3.60" fill="#d6862a"/>
<rect x="170.64" y="256.32" width="4.68" height="3.60" fill="#48e848"/>
<rect x="175.32" y="256.32" width="4.68" height="3.60" fill="#bcbcbc"/>
<rect x="63.00" y="259.93" width="4.68" height="3.60" fill="#bcbcbc"/>
<rect x="67.68" y="259.93" width="4.68" height="3.60" fill="#48e848"/>
<rect x="86.40" y="259.93" width="4.68" height="3.60" fill="#d6862a"/>
<rect x="95.76" y="259.93" width="4.68" height="3.60" fill="#48e848"/>
<rect x="100.44" y="259.93" width="4.68" height="3.60" fill="#d6862a"/>
<rect x="109.80" y="259.93" width="4.68" height="3.60" fill="#bcbcbc"/>
<rect x="114.48" y="259.93" width="4.68" height="3.60" fill="#bcbcbc"/>
<rect x="123.84" y="259.93" width="4.68" height="3.60" fill="#bcbcbc"/>
<rect x="128.52" y="259.93" width="4.68" height="3.60" fill="#d6862a"/>
<rect x="133.20" y="259.93" width="4.68" height="3.60" fill="#48e848"/>
<rect x="151.92" y="259.93" width="4.68" height="3.60" fill="#bcbcbc"/>
<rect x="156.60" y="259.93" width="4.68" height="3.60" fill="#bcbcbc"/>
<rect x="161.28" y="259.93" width="4.68" height="3.60" fill="#48e848"/>
<rect x="170.64" y="259.93" width="4.68" height="3.60" fill="#d6862a"/>
<rect x="63.00" y="263.53" width="4.68" height="3.60" fill="#d6862a"/>
<rect x="72.36" y="263.53" width="4.68" height="3.60" fill="#48e848"/>
<rect x="81.72" y="263.53" width="4.68" height="3.60" fill="#bcbcbc"/>
<rect x="95.76" y="263.53" width="4.68" height="3.60" fill="#d6862a"/>
<rect x="105.12" y="263.53" width="4.68" height="3.60" fill="#bcbcbc"/>
<rect x="109.80" y="263.53" width="4.68" height="3.60" fill="#48e848"/>
<rect x="123.84" y="263.53" width="4.68" height="3.60" fill="#d6862a"/>
<rect x="133.20" y="263.53" width="4.68" height="3.60" fill="#bcbcbc"/>
<rect x="142.56" y="263.53" width="4.68" height="3.60" fill="#48e848"/>
<rect x="151.92" y="263.53" width="4.68" height="3.60" fill="#d6862a"/>
<rect x="165.96" y="263.53" width="4.68" height="3.60" fill="#bcbcbc"/>
<rect x="170.64" y="263.53" width="4.68" height="3.60" fill="#48e848"/>
<rect x="175.32" y="263.53" width="4.68" height="3.60" fill="#48e848"/>
<rect x="63.00" y="267.13" width="4.68" height="3.60" fill="#48e848"/>
<rect x="77.04" y="267.13" width="4.68" height="3.60" fill="#d6862a"/>
<rect x="81.72" y="267.13" width="4.68" height="3.60" fill="#bcbcbc"/>
<rect x="91.08" y="267.13" width="4.68" height="3.60" fill="#bcbcbc"/>
<rect x="105.12" y="267.13" width="4.68" height="3.60" fill="#bcbcbc"/>
<rect x="109.80" y="267.13" width="4.68" height="3.60" fill="#48e848"/>
<rect x="114.48" y="267.13" width="4.68" height="3.60" fill="#d6862a"/>
<rect x="119.16" y="267.13" width="4.68" height="3.60" fill="#d6862a"/>
<rect x="137.88" y="267.13" width="4.68" height="3.60" fill="#48e848"/>
<rect x="142.56" y="267.13" width="4.68" height="3.60" fill="#bcbcbc"/>
<rect x="147.24" y="267.13" width="4.68" height="3.60" fill="#d6862a"/>
<rect x="156.60" y="267.13" width="4.68" height="3.60" fill="#48e848"/>
<rect x="161.28" y="267.13" width="4.68" height="3.60" fill="#bcbcbc"/>
<rect x="175.32" y="267.13" width="4.68" height="3.60" fill="#d6862a"/>
<rect x="67.68" y="270.74" width="4.68" height="3.60" fill="#bcbcbc"/>
<rect x="72.36" y="270.74" width="4.68" height="3.60" fill="#48e848"/>
<rect x="86.40" y="270.74" width="4.68" height="3.60" fill="#d6862a"/>
<rect x="91.08" y="270.74" width="4.68" height="3.60" fill="#d6862a"/>
<rect x="114.48" y="270.74" width="4.68" height="3.60" fill="#48e848"/>
<rect x="119.16" y="270.74" width="4.68" height="3.60" fill="#bcbcbc"/>
<rect x="128.52" y="270.74" width="4.68" height="3.60" fill="#48e848"/>
<rect x="133.20" y="270.74" width="4.68" height="3.60" fill="#d6862a"/>
<rect x="147.24" y="270.74" width="4.68" height="3.60" fill="#bcbcbc"/>
<rect x="161.28" y="270.74" width="4.68" height="3.60" fill="#48e848"/>
<rect x="170.64" y="270.74" width="4.68" height="3.60" fill="#d6862a"/>
<rect x="175.32" y="270.74" width="4.68" height="3.60" fill="#48e848"/>
<rect x="63.00" y="274.34" width="4.68" height="3.60" fill="#48e848"/>
<rect x="72.36" y="274.34" width="4.68" height="3.60" fill="#d6862a"/>
<rect x="77.04" y="274.34" width="4.68" height="3.60" fill="#bcbcbc"/>
<rect x="105.12" y="274.34" width="4.68" height="3.60" fill="#d6862a"/>
<rect x="109.80" y="274.34" width="4.68" height="3.60" fill="#bcbcbc"/>
<rect x="114.48" y="274.34" width="4.68" height="3.60" fill="#48e848"/>
<rect x="119.16" y="274.34" width="4.68" height="3.60" fill="#bcbcbc"/>
<rect x="137.88" y="274.34" width="4.68" height="3.60" fill="#d6862a"/>
<rect x="142.56" y="274.34" width="4.68" height="3.60" fill="#48e848"/>
<rect x="156.60" y="274.34" width="4.68" height="3.60" fill="#d6862a"/>
<rect x="161.28" y="274.34" width="4.68" height="3.60" fill="#48e848"/>
<rect x="165.96" y="274.34" width="4.68" height="3.60" fill="#bcbcbc"/>
<rect x="63.00" y="277.94" width="4.68" height="3.60" fill="#48e848"/>
<rect x="72.36" y="277.94" width="4.68" height="3.60" fill="#d6862a"/>
<rect x="77.04" y="277.94" width="4.68" height="3.60" fill="#bcbcbc"/>
<rect x="95.76" y="277.94" width="4.68" height="3.60" fill="#48e848"/>
<rect x="105.12" y="277.94" width="4.68" height="3.60" fill="#bcbcbc"/>
<rect x="114.48" y="277.94" width="4.68" height="3.60" fill="#d6862a"/>
<rect x="128.52" y="277.94" width="4.68" height="3.60" fill="#bcbcbc"/>
<rect x="133.20" y="277.94" width="4.68" height="3.60" fill="#d6862a"/>
<rect x="137.88" y="277.94" width="4.68" height="3.60" fill="#48e848"/>
<rect x="147.24" y="277.94" width="4.68" height="3.60" fill="#d6862a"/>
<rect x="161.28" y="277.94" width="4.68" height="3.60" fill="#bcbcbc"/>
<rect x="170.64" y="277.94" width="4.68" height="3.60" fill="#48e848"/>
<rect x="175.32" y="277.94" width="4.68" height="3.60" fill="#bcbcbc"/>
<rect x="63.00" y="281.55" width="4.68" height="3.60" fill="#d6862a"/>
<rect x="67.68" y="281.55" width="4.68" height="3.60" fill="#bcbcbc"/>
<rect x="86.40" y="281.55" width="4.68" height="3.60" fill="#48e848"/>
<rect x="105.12" y="281.55" width="4.68" height="3.60" fill="#bcbcbc"/>
<rect x="109.80" y="281.55" width="4.68" height="3.60" fill="#d6862a"/>
<rect x="114.48" y="281.55" width="4.68" height="3.60" fill="#48e848"/>
<rect x="119.16" y="281.55" width="4.68" height="3.60" fill="#d6862a"/>
<rect x="128.52" y="281.55" width="4.68" height="3.60" fill="#48e848"/>
<rect x="137.88" y="281.55" width="4.68" height="3.60" fill="#bcbcbc"/>
<rect x="151.92" y="281.55" width="4.68" height="3.60" fill="#d6862a"/>
<rect x="156.60" y="281.55" width="4.68" height="3.60" fill="#bcbcbc"/>
<rect x="170.64" y="281.55" width="4.68" height="3.60" fill="#48e848"/>
<rect x="175.32" y="281.55" width="4.68" height="3.60" fill="#48e848"/>
<rect x="63.00" y="285.15" width="4.68" height="3.60" fill="#d6862a"/>
<rect x="72.36" y="285.15" width="4.68" height="3.60" fill="#bcbcbc"/>
<rect x="86.40" y="285.15" width="4.68" height="3.60" fill="#48e848"/>
<rect x="95.76" y="285.15" width="4.68" height="3.60" fill="#d6862a"/>
<rect x="100.44" y="285.15" width="4.68" height="3.60" fill="#48e848"/>
<rect x="109.80" y="285.15" width="4.68" height="3.60" fill="#bcbcbc"/>
<rect x="123.84" y="285.15" width="4.68" height="3.60" fill="#bcbcbc"/>
<rect x="137.88" y="285.15" width="4.68" height="3.60" fill="#48e848"/>
<rect x="142.56" y="285.15" width="4.68" height="3.60" fill="#d6862a"/>
<rect x="147.24" y="285.15" width="4.68" height="3.60" fill="#bcbcbc"/>
<rect x="161.28" y="285.15" width="4.68" height="3.60" fill="#48e848"/>
<rect x="170.64" y="285.15" width="4.68" height="3.60" fill="#d6862a"/>
<rect x="175.32" y="285.15" width="4.68" height="3.60" fill="#bcbcbc"/>
<rect x="67.68" y="288.75" width="4.68" height="3.60" fill="#48e848"/>
<rect x="72.36" y="288.75" width="4.68" height="3.60" fill="#bcbcbc"/>
<rect x="77.04" y="288.75" width="4.68" height="3.60" fill="#d6862a"/>
<rect x="100.44" y="288.75" width="4.68" height="3.60" fill="#bcbcbc"/>
<rect x="109.80" y="288.75" width="4.68" height="3.60" fill="#d6862a"/>
<rect x="114.48" y="288.75" width="4.68" height="3.60" fill="#48e848"/>
<rect x="119.16" y="288.75" width="4.68" height="3.60" fill="#bcbcbc"/>
<rect x="137.88" y="288.75" width="4.68" height="3.60" fill="#48e848"/>
<rect x="142.56" y="288.75" width="4.68" height="3.60" fill="#d6862a"/>
<rect x="151.92" y="288.75" width="4.68" height="3.60" fill="#48e848"/>
<rect x="156.60" y="288.75" width="4.68" height="3.60" fill="#d6862a"/>
<rect x="165.96" y="288.75" width="4.68" height="3.60" fill="#bcbcbc"/>
<rect x="67.68" y="292.36" width="4.68" height="3.60" fill="#bcbcbc"/>
<rect x="77.04" y="292.36" width="4.68" height="3.60" fill="#d6862a"/>
<rect x="86.40" y="292.36" width="4.68" height="3.60" fill="#48e848"/>
<rect x="100.44" y="292.36" width="4.68" height="3.60" fill="#48e848"/>
<rect x="105.12" y="292.36" width="4.68" height="3.60" fill="#bcbcbc"/>
<rect x="114.48" y="292.36" width="4.68" height="3.60" fill="#d6862a"/>
<rect x="119.16" y="292.36" width="4.68" height="3.60" fill="#d6862a"/>
<rect x="133.20" y="292.36" width="4.68" height="3.60" fill="#48e848"/>
<rect x="137.88" y="292.36" width="4.68" height="3.60" fill="#bcbcbc"/>
<rect x="147.24" y="292.36" width="4.68" height="3.60" fill="#bcbcbc"/>
<rect x="151.92" y="292.36" width="4.68" height="3.60" fill="#d6862a"/>
<rect x="165.96" y="292.36" width="4.68" height="3.60" fill="#48e848"/>
<rect x="175.32" y="292.36" width="4.68" height="3.60" fill="#bcbcbc"/>
<rect x="63.00" y="295.96" width="4.68" height="3.60" fill="#48e848"/>
<rect x="72.36" y="295.96" width="4.68" height="3.60" fill="#d6862a"/>
<rect x="86.40" y="295.96" width="4.68" height="3.60" fill="#bcbcbc"/>
<rect x="95.76" y="295.96" width="4.68" height="3.60" fill="#bcbcbc"/>
<rect x="100.44" y="295.96" width="4.68" height="3.60" fill="#d6862a"/>
<rect x="109.80" y="295.96" width="4.68" height="3.60" fill="#48e848"/>
<rect x="123.84" y="295.96" width="4.68" height="3.60" fill="#d6862a"/>
<rect x="128.52" y="295.96" width="4.68" height="3.60" fill="#bcbcbc"/>
<rect x="137.88" y="295.96" width="4.68" height="3.60" fill="#48e848"/>
<rect x="147.24" y="295.96" width="4.68" height="3.60" fill="#bcbcbc"/>
<rect x="156.60" y="295.96" width="4.68" height="3.60" fill="#48e848"/>
<rect x="170.64" y="295.96" width="4.68" height="3.60" fill="#d6862a"/>
<rect x="175.32" y="295.96" width="4.68" height="3.60" fill="#48e848"/>
<rect x="67.68" y="299.56" width="4.68" height="3.60" fill="#48e848"/>
<rect x="77.04" y="299.56" width="4.68" height="3.60" fill="#d6862a"/>
<rect x="86.40" y="299.56" width="4.68" height="3.60" fill="#bcbcbc"/>
<rect x="95.76" y="299.56" width="4.68" height="3.60" fill="#48e848"/>
<rect x="100.44" y="299.56" width="4.68" height="3.60" fill="#d6862a"/>
<rect x="114.48" y="299.56" width="4.68" height="3.60" fill="#bcbcbc"/>
<rect x="128.52" y="299.56" width="4.68" height="3.60" fill="#bcbcbc"/>
<rect x="133.20" y="299.56" width="4.68" height="3.60" fill="#d6862a"/>
<rect x="137.88" y="299.56" width="4.68" height="3.60" fill="#48e848"/>
<rect x="147.24" y="299.56" width="4.68" height="3.60" fill="#d6862a"/>
<rect x="151.92" y="299.56" width="4.68" height="3.60" fill="#bcbcbc"/>
<rect x="165.96" y="299.56" width="4.68" height="3.60" fill="#48e848"/>
<rect x="63.00" y="303.17" width="4.68" height="3.60" fill="#d6862a"/>
<rect x="67.68" y="303.17" width="4.68" height="3.60" fill="#bcbcbc"/>
<rect x="77.04" y="303.17" width="4.68" height="3.60" fill="#48e848"/>
<rect x="91.08" y="303.17" width="4.68" height="3.60" fill="#48e848"/>
<rect x="95.76" y="303.17" width="4.68" height="3.60" fill="#d6862a"/>
<rect x="109.80" y="303.17" width="4.68" height="3.60" fill="#bcbcbc"/>
<rect x="119.16" y="303.17" width="4.68" height="3.60" fill="#48e848"/>
<rect x="128.52" y="303.17" width="4.68" height="3.60" fill="#d6862a"/>
<rect x="142.56" y="303.17" width="4.68" height="3.60" fill="#bcbcbc"/>
<rect x="147.24" y="303.17" width="4.68" height="3.60" fill="#48e848"/>
<rect x="161.28" y="303.17" width="4.68" height="3.60" fill="#bcbcbc"/>
<rect x="170.64" y="303.17" width="4.68" height="3.60" fill="#d6862a"/>
<rect x="175.32" y="303.17" width="4.68" height="3.60" fill="#48e848"/>
<rect x="67.68" y="306.77" width="4.68" height="3.60" fill="#bcbcbc"/>
<rect x="72.36" y="306.77" width="4.68" height="3.60" fill="#d6862a"/>
<rect x="86.40" y="306.77" width="4.68" height="3.60" fill="#48e848"/>
<rect x="95.76" y="306.77" width="4.68" height="3.60" fill="#d6862a"/>
<rect x="105.12" y="306.77" width="4.68" height="3.60" fill="#bcbcbc"/>
<rect x="109.80" y="306.77" width="4.68" height="3.60" fill="#48e848"/>
<rect x="123.84" y="306.77" width="4.68" height="3.60" fill="#d6862a"/>
<rect x="133.20" y="306.77" width="4.68" height="3.60" fill="#bcbcbc"/>
<rect x="137.88" y="306.77" width="4.68" height="3.60" fill="#48e848"/>
<rect x="147.24" y="306.77" width="4.68" height="3.60" fill="#bcbcbc"/>
<rect x="151.92" y="306.77" width="4.68" height="3.60" fill="#d6862a"/>
<rect x="165.96" y="306.77" width="4.68" height="3.60" fill="#48e848"/>
<rect x="175.32" y="306.77" width="4.68" height="3.60" fill="#48e848"/>
<rect x="63.00" y="310.37" width="4.68" height="3.60" fill="#d6862a"/>
<rect x="72.36" y="310.37" width="4.68" height="3.60" fill="#48e848"/>
<rect x="81.72" y="310.37" width="4.68" height="3.60" fill="#bcbcbc"/>
<rect x="95.76" y="310.37" width="4.68" height="3.60" fill="#bcbcbc"/>
<rect x="105.12" y="310.37" width="4.68" height="3.60" fill="#d6862a"/>
<rect x="109.80" y="310.37" width="4.68" height="3.60" fill="#48e848"/>
<rect x="123.84" y="310.37" width="4.68" height="3.60" fill="#d6862a"/>
<rect x="137.88" y="310.37" width="4.68" height="3.60" fill="#48e848"/>
<rect x="151.92" y="310.37" width="4.68" height="3.60" fill="#d6862a"/>
<rect x="156.60" y="310.37" width="4.68" height="3.60" fill="#48e848"/>
<rect x="161.28" y="310.37" width="4.68" height="3.60" fill="#bcbcbc"/>
<rect x="67.68" y="313.98" width="4.68" height="3.60" fill="#48e848"/>
<rect x="72.36" y="313.98" width="4.68" height="3.60" fill="#bcbcbc"/>
<rect x="81.72" y="313.98" width="4.68" height="3.60" fill="#d6862a"/>
<rect x="95.76" y="313.98" width="4.68" height="3.60" fill="#48e848"/>
<rect x="100.44" y="313.98" width="4.68" height="3.60" fill="#bcbcbc"/>
<rect x="114.48" y="313.98" width="4.68" height="3.60" fill="#d6862a"/>
<rect x="128.52" y="313.98" width="4.68" height="3.60" fill="#bcbcbc"/>
<rect x="137.88" y="313.98" width="4.68" height="3.60" fill="#d6862a"/>
<rect x="142.56" y="313.98" width="4.68" height="3.60" fill="#48e848"/>
<rect x="161.28" y="313.98" width="4.68" height="3.60" fill="#48e848"/>
<rect x="165.96" y="313.98" width="4.68" height="3.60" fill="#d6862a"/>
<rect x="170.64" y="313.98" width="4.68" height="3.60" fill="#bcbcbc"/>
<rect x="175.32" y="313.98" width="4.68" height="3.60" fill="#bcbcbc"/>
<rect x="63.00" y="317.58" width="4.68" height="3.60" fill="#d6862a"/>
<rect x="77.04" y="317.58" width="4.68" height="3.60" fill="#bcbcbc"/>
<rect x="86.40" y="317.58" width="4.68" height="3.60" fill="#48e848"/>
<rect x="95.76" y="317.58" width="4.68" height="3.60" fill="#48e848"/>
<rect x="105.12" y="317.58" width="4.68" height="3.60" fill="#d6862a"/>
<rect x="109.80" y="317.58" width="4.68" height="3.60" fill="#bcbcbc"/>
<rect x="119.16" y="317.58" width="4.68" height="3.60" fill="#bcbcbc"/>
<rect x="128.52" y="317.58" width="4.68" height="3.60" fill="#48e848"/>
<rect x="137.88" y="317.58" width="4.68" height="3.60" fill="#d6862a"/>
<rect x="151.92" y="317.58" width="4.68" height="3.60" fill="#48e848"/>
<rect x="165.96" y="317.58" width="4.68" height="3.60" fill="#d6862a"/>
<rect x="170.64" y="317.58" width="4.68" height="3.60" fill="#bcbcbc"/>
<rect x="72.36" y="321.18" width="4.68" height="3.60" fill="#48e848"/>
<rect x="81.72" y="321.18" width="4.68" height="3.60" fill="#bcbcbc"/>
<rect x="86.40" y="321.18" width="4.68" height="3.60" fill="#d6862a"/>
<rect x="95.76" y="321.18" width="4.68" height="3.60" fill="#48e848"/>
<rect x="100.44" y="321.18" width="4.68" height="3.60" fill="#bcbcbc"/>
<rect x="114.48" y="321.18" width="4.68" height="3.60" fill="#d6862a"/>
<rect x="123.84" y="321.18" width="4.68" height="3.60" fill="#48e848"/>
<rect x="133.20" y="321.18" width="4.68" height="3.60" fill="#bcbcbc"/>
<rect x="137.88" y="321.18" width="4.68" height="3.60" fill="#d6862a"/>
<rect x="156.60" y="321.18" width="4.68" height="3.60" fill="#bcbcbc"/>
<rect x="161.28" y="321.18" width="4.68" height="3.60" fill="#48e848"/>
<rect x="165.96" y="321.18" width="4.68" height="3.60" fill="#d6862a"/>
<rect x="67.68" y="324.79" width="4.68" height="3.60" fill="#bcbcbc"/>
<rect x="77.04" y="324.79" width="4.68" height="3.60" fill="#d6862a"/>
<rect x="81.72" y="324.79" width="4.68" height="3.60" fill="#48e848"/>
<rect x="91.08" y="324.79" width="4.68" height="3.60" fill="#48e848"/>
<rect x="109.80" y="324.79" width="4.68" height="3.60" fill="#bcbcbc"/>
<rect x="114.48" y="324.79" width="4.68" height="3.60" fill="#d6862a"/>
<rect x="123.84" y="324.79" width="4.68" height="3.60" fill="#bcbcbc"/>
<rect x="128.52" y="324.79" width="4.68" height="3.60" fill="#48e848"/>
<rect x="137.88" y="324.79" width="4.68" height="3.60" fill="#bcbcbc"/>
<rect x="142.56" y="324.79" width="4.68" height="3.60" fill="#d6862a"/>
<rect x="151.92" y="324.79" width="4.68" height="3.60" fill="#d6862a"/>
<rect x="165.96" y="324.79" width="4.68" height="3.60" fill="#bcbcbc"/>
<rect x="170.64" y="324.79" width="4.68" height="3.60" fill="#48e848"/>
<rect x="63.00" y="328.39" width="4.68" height="3.60" fill="#d6862a"/>
<rect x="77.04" y="328.39" width="4.68" height="3.60" fill="#48e848"/>
<rect x="86.40" y="328.39" width="4.68" height="3.60" fill="#bcbcbc"/>
<rect x="95.76" y="328.39" width="4.68" height="3.60" fill="#48e848"/>
<rect x="100.44" y="328.39" width="4.68" height="3.60" fill="#d6862a"/>
<rect x="119.16" y="328.39" width="4.68" height="3.60" fill="#d6862a"/>
<rect x="137.88" y="328.39" width="4.68" height="3.60" fill="#48e848"/>
<rect x="142.56" y="328.39" width="4.68" height="3.60" fill="#bcbcbc"/>
<rect x="156.60" y="328.39" width="4.68" height="3.60" fill="#d6862a"/>
<rect x="161.28" y="328.39" width="4.68" height="3.60" fill="#bcbcbc"/>
<rect x="170.64" y="328.39" width="4.68" height="3.60" fill="#48e848"/>
<rect x="63.00" y="331.99" width="4.68" height="3.60" fill="#d6862a"/>
<rect x="67.68" y="331.99" width="4.68" height="3.60" fill="#48e848"/>
<rect x="86.40" y="331.99" width="4.68" height="3.60" fill="#bcbcbc"/>
<rect x="95.76" y="331.99" width="4.68" height="3.60" fill="#bcbcbc"/>
<rect x="100.44" y="331.99" width="4.68" height="3.60" fill="#d6862a"/>
<rect x="114.48" y="331.99" width="4.68" height="3.60" fill="#48e848"/>
<rect x="119.16" y="331.99" width="4.68" height="3.60" fill="#d6862a"/>
<rect x="137.88" y="331.99" width="4.68" height="3.60" fill="#48e848"/>
<rect x="142.56" y="331.99" width="4.68" height="3.60" fill="#bcbcbc"/>
<rect x="147.24" y="331.99" width="4.68" height="3.60" fill="#bcbcbc"/>
<rect x="156.60" y="331.99" width="4.68" height="3.60" fill="#48e848"/>
<rect x="170.64" y="331.99" width="4.68" height="3.60" fill="#d6862a"/>
<rect x="63.00" y="335.60" width="4.68" height="3.60" fill="#d6862a"/>
<rect x="67.68" y="335.60" width="4.68" height="3.60" fill="#48e848"/>
<rect x="77.04" y="335.60" width="4.68" height="3.60" fill="#bcbcbc"/>
<rect x="95.76" y="335.60" width="4.68" height="3.60" fill="#d6862a"/>
<rect x="109.80" y="335.60" width="4.68" height="3.60" fill="#bcbcbc"/>
<rect x="114.48" y="335.60" width="4.68" height="3.60" fill="#48e848"/>
<rect x="128.52" y="335.60" width="4.68" height="3.60" fill="#bcbcbc"/>
<rect x="133.20" y="335.60" width="4.68" height="3.60" fill="#48e848"/>
<rect x="137.88" y="335.60" width="4.68" height="3.60" fill="#d6862a"/>
<rect x="147.24" y="335.60" width="4.68" height="3.60" fill="#bcbcbc"/>
<rect x="151.92" y="335.60" width="4.68" height="3.60" fill="#d6862a"/>
<rect x="170.64" y="335.60" width="4.68" height="3.60" fill="#48e848"/>
<line x1="63.00" y1="231.10" x2="63.00" y2="339.20" stroke="#3a3a3a" stroke-width="0.6" />
<line x1="67.68" y1="231.10" x2="67.68" y2="339.20" stroke="#3a3a3a" stroke-width="0.6" />
<line x1="72.36" y1="231.10" x2="72.36" y2="339.20" stroke="#3a3a3a" stroke-width="0.6" />
<line x1="77.04" y1="231.10" x2="77.04" y2="339.20" stroke="#3a3a3a" stroke-width="0.6" />
<line x1="81.72" y1="231.10" x2="81.72" y2="339.20" stroke="#3a3a3a" stroke-width="0.6" />
<line x1="86.40" y1="231.10" x2="86.40" y2="339.20" stroke="#3a3a3a" stroke-width="0.6" />
<line x1="91.08" y1="231.10" x2="91.08" y2="339.20" stroke="#3a3a3a" stroke-width="0.6" />
<line x1="95.76" y1="231.10" x2="95.76" y2="339.20" stroke="#3a3a3a" stroke-width="0.6" />
<line x1="100.44" y1="231.10" x2="100.44" y2="339.20" stroke="#3a3a3a" stroke-width="0.6" />
<line x1="105.12" y1="231.10" x2="105.12" y2="339.20" stroke="#3a3a3a" stroke-width="0.6" />
<line x1="109.80" y1="231.10" x2="109.80" y2="339.20" stroke="#3a3a3a" stroke-width="0.6" />
<line x1="114.48" y1="231.10" x2="114.48" y2="339.20" stroke="#3a3a3a" stroke-width="0.6" />
<line x1="119.16" y1="231.10" x2="119.16" y2="339.20" stroke="#3a3a3a" stroke-width="0.6" />
<line x1="123.84" y1="231.10" x2="123.84" y2="339.20" stroke="#3a3a3a" stroke-width="0.6" />
<line x1="128.52" y1="231.10" x2="128.52" y2="339.20" stroke="#3a3a3a" stroke-width="0.6" />
<line x1="133.20" y1="231.10" x2="133.20" y2="339.20" stroke="#3a3a3a" stroke-width="0.6" />
<line x1="137.88" y1="231.10" x2="137.88" y2="339.20" stroke="#3a3a3a" stroke-width="0.6" />
<line x1="142.56" y1="231.10" x2="142.56" y2="339.20" stroke="#3a3a3a" stroke-width="0.6" />
<line x1="147.24" y1="231.10" x2="147.24" y2="339.20" stroke="#3a3a3a" stroke-width="0.6" />
<line x1="151.92" y1="231.10" x2="151.92" y2="339.20" stroke="#3a3a3a" stroke-width="0.6" />
<line x1="156.60" y1="231.10" x2="156.60" y2="339.20" stroke="#3a3a3a" stroke-width="0.6" />
<line x1="161.28" y1="231.10" x2="161.28" y2="339.20" stroke="#3a3a3a" stroke-width="0.6" />
<line x1="165.96" y1="231.10" x2="165.96" y2="339.20" stroke="#3a3a3a" stroke-width="0.6" />
<line x1="170.64" y1="231.10" x2="170.64" y2="339.20" stroke="#3a3a3a" stroke-width="0.6" />
<line x1="175.32" y1="231.10" x2="175.32" y2="339.20" stroke="#3a3a3a" stroke-width="0.6" />
<line x1="180.00" y1="231.10" x2="180.00" y2="339.20" stroke="#3a3a3a" stroke-width="0.6" />
<line x1="63.00" y1="231.10" x2="180.00" y2="231.10" stroke="#3a3a3a" stroke-width="0.6" />
<line x1="63.00" y1="234.70" x2="180.00" y2="234.70" stroke="#3a3a3a" stroke-width="0.6" />
<line x1="63.00" y1="238.31" x2="180.00" y2="238.31" stroke="#3a3a3a" stroke-width="0.6" />
<line x1="63.00" y1="241.91" x2="180.00" y2="241.91" stroke="#3a3a3a" stroke-width="0.6" />
<line x1="63.00" y1="245.51" x2="180.00" y2="245.51" stroke="#3a3a3a" stroke-width="0.6" />
<line x1="63.00" y1="249.12" x2="180.00" y2="249.12" stroke="#3a3a3a" stroke-width="0.6" />
<line x1="63.00" y1="252.72" x2="180.00" y2="252.72" stroke="#3a3a3a" stroke-width="0.6" />
<line x1="63.00" y1="256.32" x2="180.00" y2="256.32" stroke="#3a3a3a" stroke-width="0.6" />
<line x1="63.00" y1="259.93" x2="180.00" y2="259.93" stroke="#3a3a3a" stroke-width="0.6" />
<line x1="63.00" y1="263.53" x2="180.00" y2="263.53" stroke="#3a3a3a" stroke-width="0.6" />
<line x1="63.00" y1="267.13" x2="180.00" y2="267.13" stroke="#3a3a3a" stroke-width="0.6" />
<line x1="63.00" y1="270.74" x2="180.00" y2="270.74" stroke="#3a3a3a" stroke-width="0.6" />
<line x1="63.00" y1="274.34" x2="180.00" y2="274.34" stroke="#3a3a3a" stroke-width="0.6" />
<line x1="63.00" y1="277.94" x2="180.00" y2="277.94" stroke="#3a3a3a" stroke-width="0.6" />
<line x1="63.00" y1="281.55" x2="180.00" y2="281.55" stroke="#3a3a3a" stroke-width="0.6" />
<line x1="63.00" y1="285.15" x2="180.00" y2="285.15" stroke="#3a3a3a" stroke-width="0.6" />
<line x1="63.00" y1="288.75" x2="180.00" y2="288.75" stroke="#3a3a3a" stroke-width="0.6" />
<line x1="63.00" y1="292.36" x2="180.00" y2="292.36" stroke="#3a3a3a" stroke-width="0.6" />
<line x1="63.00" y1="295.96" x2="180.00" y2="295.96" stroke="#3a3a3a" stroke-width="0.6" />
<line x1="63.00" y1="299.56" x2="180.00" y2="299.56" stroke="#3a3a3a" stroke-width="0.6" />
<line x1="63.00" y1="303.17" x2="180.00" y2="303.17" stroke="#3a3a3a" stroke-width="0.6" />
<line x1="63.00" y1="306.77" x2="180.00" y2="306.77" stroke="#3a3a3a" stroke-width="0.6" />
<line x1="63.00" y1="310.37" x2="180.00" y2="310.37" stroke="#3a3a3a" stroke-width="0.6" />
<line x1="63.00" y1="313.98" x2="180.00" y2="313.98" stroke="#3a3a3a" stroke-width="0.6" />
<line x1="63.00" y1="317.58" x2="180.00" y2="317.58" stroke="#3a3a3a" stroke-width="0.6" />
<line x1="63.00" y1="321.18" x2="180.00" y2="321.18" stroke="#3a3a3a" stroke-width="0.6" />
<line x1="63.00" y1="324.79" x2="180.00" y2="324.79" stroke="#3a3a3a" stroke-width="0.6" />
<line x1="63.00" y1="328.39" x2="180.00" y2="328.39" stroke="#3a3a3a" stroke-width="0.6" />
<line x1="63.00" y1="331.99" x2="180.00" y2="331.99" stroke="#3a3a3a" stroke-width="0.6" />
<line x1="63.00" y1="335.60" x2="180.00" y2="335.60" stroke="#3a3a3a" stroke-width="0.6" />
<line x1="63.00" y1="339.20" x2="180.00" y2="339.20" stroke="#3a3a3a" stroke-width="0.6" />
<text x="60.1" y="237.30166666666668" font-size="12.8" fill="#111" text-anchor="end" font-weight="normal" >08:00</text>
<text x="60.1" y="251.715" font-size="12.8" fill="#111" text-anchor="end" font-weight="normal" >09:20</text>
<text x="60.1" y="266.12833333333333" font-size="12.8" fill="#111" text-anchor="end" font-weight="normal" >10:40</text>
<text x="60.1" y="280.54166666666663" font-size="12.8" fill="#111" text-anchor="end" font-weight="normal" >12:00</text>
<text x="60.1" y="294.955" font-size="12.8" fill="#111" text-anchor="end" font-weight="normal" >13:20</text>
<text x="60.1" y="309.3683333333333" font-size="12.8" fill="#111" text-anchor="end" font-weight="normal" >14:40</text>
<text x="60.1" y="323.78166666666664" font-size="12.8" fill="#111" text-anchor="end" font-weight="normal" >16:00</text>
<text x="60.1" y="338.19499999999994" font-size="12.8" fill="#111" text-anchor="end" font-weight="normal" >17:20</text>
<text x="85.56" y="350.9" font-size="12.6" fill="#111" text-anchor="middle" font-weight="normal" >5</text>
<text x="108.96" y="350.9" font-size="12.6" fill="#111" text-anchor="middle" font-weight="normal" >10</text>
<text x="132.36" y="350.9" font-size="12.6" fill="#111" text-anchor="middle" font-weight="normal" >15</text>
<text x="155.76" y="350.9" font-size="12.6" fill="#111" text-anchor="middle" font-weight="normal" >20</text>
<text x="179.16" y="350.9" font-size="12.6" fill="#111" text-anchor="middle" font-weight="normal" >25</text>
<text transform="translate(15.5,278.3) rotate(-90)" font-size="16" fill="#444" text-anchor="middle">Time (hours)</text>
<text x="121.2" y="366.7" font-size="16" fill="#444" text-anchor="middle" font-weight="normal" >Experimental day</text>
<line x1="288.60" y1="83.20" x2="288.60" y2="181.90" stroke="#666" stroke-width="1" />
<line x1="288.50" y1="181.90" x2="466.70" y2="181.90" stroke="#666" stroke-width="1" />
<line x1="288.60" y1="172.50" x2="290.70" y2="172.50" stroke="#666" stroke-width="1" />
<text x="284.9" y="176.1" font-size="12.6" fill="#444" text-anchor="end" font-weight="normal" >50</text>
<line x1="288.60" y1="150.16" x2="290.70" y2="150.16" stroke="#666" stroke-width="1" />
<text x="284.9" y="153.765" font-size="12.6" fill="#444" text-anchor="end" font-weight="normal" >100</text>
<line x1="288.60" y1="127.83" x2="290.70" y2="127.83" stroke="#666" stroke-width="1" />
<text x="284.9" y="131.43" font-size="12.6" fill="#444" text-anchor="end" font-weight="normal" >150</text>
<line x1="288.60" y1="105.50" x2="290.70" y2="105.50" stroke="#666" stroke-width="1" />
<text x="284.9" y="109.095" font-size="12.6" fill="#444" text-anchor="end" font-weight="normal" >200</text>
<line x1="288.60" y1="83.16" x2="290.70" y2="83.16" stroke="#666" stroke-width="1" />
<text x="284.9" y="86.75999999999999" font-size="12.6" fill="#444" text-anchor="end" font-weight="normal" >250</text>
<line x1="318.40" y1="181.90" x2="318.40" y2="180.10" stroke="#666" stroke-width="1" />
<text x="317.40000000000003" y="193.3" font-size="12.6" fill="#222" text-anchor="middle" font-weight="normal" >5</text>
<line x1="348.20" y1="181.90" x2="348.20" y2="180.10" stroke="#666" stroke-width="1" />
<text x="348.20000000000005" y="193.3" font-size="12.6" fill="#222" text-anchor="middle" font-weight="normal" >10</text>
<line x1="378.00" y1="181.90" x2="378.00" y2="180.10" stroke="#666" stroke-width="1" />
<text x="378.0" y="193.3" font-size="12.6" fill="#222" text-anchor="middle" font-weight="normal" >15</text>
<line x1="407.80" y1="181.90" x2="407.80" y2="180.10" stroke="#666" stroke-width="1" />
<text x="407.8" y="193.3" font-size="12.6" fill="#222" text-anchor="middle" font-weight="normal" >20</text>
<line x1="437.60" y1="181.90" x2="437.60" y2="180.10" stroke="#666" stroke-width="1" />
<text x="437.6" y="193.3" font-size="12.6" fill="#222" text-anchor="middle" font-weight="normal" >25</text>
<circle cx="336.28" cy="137.17" r="2.1" fill="#f08c90"/>
<circle cx="342.24" cy="137.17" r="2.1" fill="#f08c90"/>
<circle cx="354.16" cy="158.92" r="2.1" fill="#f08c90"/>
<circle cx="378.00" cy="161.20" r="2.1" fill="#f08c90"/>
<circle cx="383.96" cy="96.56" r="2.1" fill="#f08c90"/>
<circle cx="419.72" cy="170.04" r="2.1" fill="#f08c90"/>
<circle cx="425.68" cy="116.04" r="2.1" fill="#f08c90"/>
<circle cx="431.64" cy="132.70" r="2.1" fill="#f08c90"/>
<circle cx="306.48" cy="112.06" r="2.0" fill="#000"/>
<circle cx="312.44" cy="107.46" r="2.0" fill="#000"/>
<circle cx="318.40" cy="112.91" r="2.0" fill="#000"/>
<circle cx="324.36" cy="107.06" r="2.0" fill="#000"/>
<circle cx="330.32" cy="101.16" r="2.0" fill="#000"/>
<circle cx="348.20" cy="126.76" r="2.0" fill="#000"/>
<circle cx="360.12" cy="109.78" r="2.0" fill="#000"/>
<circle cx="366.08" cy="99.15" r="2.0" fill="#000"/>
<circle cx="372.04" cy="123.18" r="2.0" fill="#000"/>
<circle cx="389.92" cy="122.78" r="2.0" fill="#000"/>
<circle cx="395.88" cy="113.45" r="2.0" fill="#000"/>
<circle cx="401.84" cy="138.73" r="2.0" fill="#000"/>
<circle cx="407.80" cy="129.93" r="2.0" fill="#000"/>
<circle cx="413.76" cy="127.74" r="2.0" fill="#000"/>
<circle cx="437.60" cy="131.09" r="2.0" fill="#000"/>
<circle cx="443.56" cy="121.40" r="2.0" fill="#000"/>
<circle cx="449.52" cy="143.11" r="2.0" fill="#000"/>
<line x1="447.40" y1="145.60" x2="445.00" y2="151.80" stroke="#000" stroke-width="1.1" />
<line x1="425.60" y1="171.10" x2="435.30" y2="172.70" stroke="#e82020" stroke-width="1.1" />
<text x="437.2" y="163.2" font-size="12.9" fill="#111" text-anchor="start" font-weight="normal" >Work day</text>
<text x="437.2" y="178.8" font-size="12.9" fill="#e82020" text-anchor="start" font-weight="normal" >Holiday</text>
<text x="321.6" y="211.7" font-size="16" fill="#444" text-anchor="start" font-weight="normal" >Days, February</text>
<text transform="translate(236.3,128.7) rotate(-90)" font-size="16" fill="#444" text-anchor="middle">Total responses</text>
<text transform="translate(254.7,130.6) rotate(-90)" font-size="16" fill="#444" text-anchor="middle">per day</text>
<line x1="288.70" y1="245.50" x2="288.70" y2="339.30" stroke="#666" stroke-width="1" />
<line x1="288.20" y1="339.30" x2="466.60" y2="339.30" stroke="#666" stroke-width="1" />
<line x1="288.70" y1="323.70" x2="290.50" y2="323.70" stroke="#666" stroke-width="1" />
<text x="284.7" y="327.3" font-size="12.6" fill="#444" text-anchor="end" font-weight="normal" >0</text>
<line x1="288.70" y1="304.20" x2="290.50" y2="304.20" stroke="#666" stroke-width="1" />
<text x="284.7" y="307.8" font-size="12.6" fill="#444" text-anchor="end" font-weight="normal" >5</text>
<line x1="288.70" y1="284.70" x2="290.50" y2="284.70" stroke="#666" stroke-width="1" />
<text x="284.7" y="288.3" font-size="12.6" fill="#444" text-anchor="end" font-weight="normal" >10</text>
<line x1="288.70" y1="265.20" x2="290.50" y2="265.20" stroke="#666" stroke-width="1" />
<text x="284.7" y="268.8" font-size="12.6" fill="#444" text-anchor="end" font-weight="normal" >15</text>
<line x1="288.70" y1="245.70" x2="290.50" y2="245.70" stroke="#666" stroke-width="1" />
<text x="284.7" y="249.29999999999998" font-size="12.6" fill="#444" text-anchor="end" font-weight="normal" >20</text>
<line x1="288.40" y1="339.30" x2="288.40" y2="337.50" stroke="#666" stroke-width="1" />
<text x="289.3" y="350.9" font-size="12.6" fill="#222" text-anchor="middle" font-weight="normal" >0</text>
<line x1="325.40" y1="339.30" x2="325.40" y2="337.50" stroke="#666" stroke-width="1" />
<text x="326.5" y="350.9" font-size="12.6" fill="#222" text-anchor="middle" font-weight="normal" >5</text>
<line x1="362.40" y1="339.30" x2="362.40" y2="337.50" stroke="#666" stroke-width="1" />
<text x="367.1" y="350.9" font-size="12.6" fill="#222" text-anchor="middle" font-weight="normal" >10</text>
<line x1="399.40" y1="339.30" x2="399.40" y2="337.50" stroke="#666" stroke-width="1" />
<text x="404.4" y="350.9" font-size="12.6" fill="#222" text-anchor="middle" font-weight="normal" >15</text>
<line x1="436.40" y1="339.30" x2="436.40" y2="337.50" stroke="#666" stroke-width="1" />
<text x="440.9" y="350.9" font-size="12.6" fill="#222" text-anchor="middle" font-weight="normal" >20</text>
<line x1="292.10" y1="313.40" x2="292.10" y2="330.40" stroke="#8c8c8c" stroke-width="0.8" />
<line x1="290.40" y1="313.40" x2="293.80" y2="313.40" stroke="#555" stroke-width="0.8" />
<line x1="290.40" y1="330.40" x2="293.80" y2="330.40" stroke="#555" stroke-width="0.8" />
<line x1="306.90" y1="320.70" x2="306.90" y2="326.70" stroke="#8c8c8c" stroke-width="0.8" />
<line x1="305.20" y1="320.70" x2="308.60" y2="320.70" stroke="#555" stroke-width="0.8" />
<line x1="305.20" y1="326.70" x2="308.60" y2="326.70" stroke="#555" stroke-width="0.8" />
<line x1="329.10" y1="322.40" x2="329.10" y2="326.40" stroke="#8c8c8c" stroke-width="0.8" />
<line x1="327.40" y1="322.40" x2="330.80" y2="322.40" stroke="#555" stroke-width="0.8" />
<line x1="327.40" y1="326.40" x2="330.80" y2="326.40" stroke="#555" stroke-width="0.8" />
<line x1="332.80" y1="321.70" x2="332.80" y2="325.70" stroke="#8c8c8c" stroke-width="0.8" />
<line x1="331.10" y1="321.70" x2="334.50" y2="321.70" stroke="#555" stroke-width="0.8" />
<line x1="331.10" y1="325.70" x2="334.50" y2="325.70" stroke="#555" stroke-width="0.8" />
<line x1="336.50" y1="317.30" x2="336.50" y2="323.30" stroke="#8c8c8c" stroke-width="0.8" />
<line x1="334.80" y1="317.30" x2="338.20" y2="317.30" stroke="#555" stroke-width="0.8" />
<line x1="334.80" y1="323.30" x2="338.20" y2="323.30" stroke="#555" stroke-width="0.8" />
<line x1="340.20" y1="316.40" x2="340.20" y2="323.40" stroke="#8c8c8c" stroke-width="0.8" />
<line x1="338.50" y1="316.40" x2="341.90" y2="316.40" stroke="#555" stroke-width="0.8" />
<line x1="338.50" y1="323.40" x2="341.90" y2="323.40" stroke="#555" stroke-width="0.8" />
<line x1="343.90" y1="310.50" x2="343.90" y2="321.50" stroke="#8c8c8c" stroke-width="0.8" />
<line x1="342.20" y1="310.50" x2="345.60" y2="310.50" stroke="#555" stroke-width="0.8" />
<line x1="342.20" y1="321.50" x2="345.60" y2="321.50" stroke="#555" stroke-width="0.8" />
<line x1="347.60" y1="300.90" x2="347.60" y2="320.10" stroke="#8c8c8c" stroke-width="0.8" />
<line x1="345.90" y1="300.90" x2="349.30" y2="300.90" stroke="#555" stroke-width="0.8" />
<line x1="345.90" y1="320.10" x2="349.30" y2="320.10" stroke="#555" stroke-width="0.8" />
<line x1="351.30" y1="296.00" x2="351.30" y2="316.00" stroke="#8c8c8c" stroke-width="0.8" />
<line x1="349.60" y1="296.00" x2="353.00" y2="296.00" stroke="#555" stroke-width="0.8" />
<line x1="349.60" y1="316.00" x2="353.00" y2="316.00" stroke="#555" stroke-width="0.8" />
<line x1="355.00" y1="281.50" x2="355.00" y2="304.50" stroke="#8c8c8c" stroke-width="0.8" />
<line x1="353.30" y1="281.50" x2="356.70" y2="281.50" stroke="#555" stroke-width="0.8" />
<line x1="353.30" y1="304.50" x2="356.70" y2="304.50" stroke="#555" stroke-width="0.8" />
<line x1="358.70" y1="284.50" x2="358.70" y2="310.50" stroke="#8c8c8c" stroke-width="0.8" />
<line x1="357.00" y1="284.50" x2="360.40" y2="284.50" stroke="#555" stroke-width="0.8" />
<line x1="357.00" y1="310.50" x2="360.40" y2="310.50" stroke="#555" stroke-width="0.8" />
<line x1="362.40" y1="268.80" x2="362.40" y2="301.60" stroke="#8c8c8c" stroke-width="0.8" />
<line x1="360.70" y1="268.80" x2="364.10" y2="268.80" stroke="#555" stroke-width="0.8" />
<line x1="360.70" y1="301.60" x2="364.10" y2="301.60" stroke="#555" stroke-width="0.8" />
<line x1="366.10" y1="272.80" x2="366.10" y2="316.40" stroke="#8c8c8c" stroke-width="0.8" />
<line x1="364.40" y1="272.80" x2="367.80" y2="272.80" stroke="#555" stroke-width="0.8" />
<line x1="364.40" y1="316.40" x2="367.80" y2="316.40" stroke="#555" stroke-width="0.8" />
<line x1="369.80" y1="293.20" x2="369.80" y2="314.80" stroke="#8c8c8c" stroke-width="0.8" />
<line x1="368.10" y1="293.20" x2="371.50" y2="293.20" stroke="#555" stroke-width="0.8" />
<line x1="368.10" y1="314.80" x2="371.50" y2="314.80" stroke="#555" stroke-width="0.8" />
<line x1="373.50" y1="272.30" x2="373.50" y2="314.30" stroke="#8c8c8c" stroke-width="0.8" />
<line x1="371.80" y1="272.30" x2="375.20" y2="272.30" stroke="#555" stroke-width="0.8" />
<line x1="371.80" y1="314.30" x2="375.20" y2="314.30" stroke="#555" stroke-width="0.8" />
<line x1="377.20" y1="285.20" x2="377.20" y2="313.20" stroke="#8c8c8c" stroke-width="0.8" />
<line x1="375.50" y1="285.20" x2="378.90" y2="285.20" stroke="#555" stroke-width="0.8" />
<line x1="375.50" y1="313.20" x2="378.90" y2="313.20" stroke="#555" stroke-width="0.8" />
<line x1="380.90" y1="276.70" x2="380.90" y2="307.70" stroke="#8c8c8c" stroke-width="0.8" />
<line x1="379.20" y1="276.70" x2="382.60" y2="276.70" stroke="#555" stroke-width="0.8" />
<line x1="379.20" y1="307.70" x2="382.60" y2="307.70" stroke="#555" stroke-width="0.8" />
<line x1="384.60" y1="280.80" x2="384.60" y2="307.80" stroke="#8c8c8c" stroke-width="0.8" />
<line x1="382.90" y1="280.80" x2="386.30" y2="280.80" stroke="#555" stroke-width="0.8" />
<line x1="382.90" y1="307.80" x2="386.30" y2="307.80" stroke="#555" stroke-width="0.8" />
<line x1="388.30" y1="276.70" x2="388.30" y2="307.70" stroke="#8c8c8c" stroke-width="0.8" />
<line x1="386.60" y1="276.70" x2="390.00" y2="276.70" stroke="#555" stroke-width="0.8" />
<line x1="386.60" y1="307.70" x2="390.00" y2="307.70" stroke="#555" stroke-width="0.8" />
<line x1="392.00" y1="287.20" x2="392.00" y2="311.20" stroke="#8c8c8c" stroke-width="0.8" />
<line x1="390.30" y1="287.20" x2="393.70" y2="287.20" stroke="#555" stroke-width="0.8" />
<line x1="390.30" y1="311.20" x2="393.70" y2="311.20" stroke="#555" stroke-width="0.8" />
<line x1="395.70" y1="272.50" x2="395.70" y2="306.50" stroke="#8c8c8c" stroke-width="0.8" />
<line x1="394.00" y1="272.50" x2="397.40" y2="272.50" stroke="#555" stroke-width="0.8" />
<line x1="394.00" y1="306.50" x2="397.40" y2="306.50" stroke="#555" stroke-width="0.8" />
<line x1="399.40" y1="264.80" x2="399.40" y2="306.80" stroke="#8c8c8c" stroke-width="0.8" />
<line x1="397.70" y1="264.80" x2="401.10" y2="264.80" stroke="#555" stroke-width="0.8" />
<line x1="397.70" y1="306.80" x2="401.10" y2="306.80" stroke="#555" stroke-width="0.8" />
<line x1="403.10" y1="270.00" x2="403.10" y2="318.00" stroke="#8c8c8c" stroke-width="0.8" />
<line x1="401.40" y1="270.00" x2="404.80" y2="270.00" stroke="#555" stroke-width="0.8" />
<line x1="401.40" y1="318.00" x2="404.80" y2="318.00" stroke="#555" stroke-width="0.8" />
<line x1="406.80" y1="287.00" x2="406.80" y2="310.00" stroke="#8c8c8c" stroke-width="0.8" />
<line x1="405.10" y1="287.00" x2="408.50" y2="287.00" stroke="#555" stroke-width="0.8" />
<line x1="405.10" y1="310.00" x2="408.50" y2="310.00" stroke="#555" stroke-width="0.8" />
<line x1="410.50" y1="287.30" x2="410.50" y2="317.30" stroke="#8c8c8c" stroke-width="0.8" />
<line x1="408.80" y1="287.30" x2="412.20" y2="287.30" stroke="#555" stroke-width="0.8" />
<line x1="408.80" y1="317.30" x2="412.20" y2="317.30" stroke="#555" stroke-width="0.8" />
<line x1="414.20" y1="275.50" x2="414.20" y2="318.50" stroke="#8c8c8c" stroke-width="0.8" />
<line x1="412.50" y1="275.50" x2="415.90" y2="275.50" stroke="#555" stroke-width="0.8" />
<line x1="412.50" y1="318.50" x2="415.90" y2="318.50" stroke="#555" stroke-width="0.8" />
<line x1="417.90" y1="288.50" x2="417.90" y2="309.50" stroke="#8c8c8c" stroke-width="0.8" />
<line x1="416.20" y1="288.50" x2="419.60" y2="288.50" stroke="#555" stroke-width="0.8" />
<line x1="416.20" y1="309.50" x2="419.60" y2="309.50" stroke="#555" stroke-width="0.8" />
<line x1="421.60" y1="293.50" x2="421.60" y2="317.50" stroke="#8c8c8c" stroke-width="0.8" />
<line x1="419.90" y1="293.50" x2="423.30" y2="293.50" stroke="#555" stroke-width="0.8" />
<line x1="419.90" y1="317.50" x2="423.30" y2="317.50" stroke="#555" stroke-width="0.8" />
<line x1="425.30" y1="293.50" x2="425.30" y2="320.50" stroke="#8c8c8c" stroke-width="0.8" />
<line x1="423.60" y1="293.50" x2="427.00" y2="293.50" stroke="#555" stroke-width="0.8" />
<line x1="423.60" y1="320.50" x2="427.00" y2="320.50" stroke="#555" stroke-width="0.8" />
<line x1="429.00" y1="294.20" x2="429.00" y2="322.00" stroke="#8c8c8c" stroke-width="0.8" />
<line x1="427.30" y1="294.20" x2="430.70" y2="294.20" stroke="#555" stroke-width="0.8" />
<line x1="427.30" y1="322.00" x2="430.70" y2="322.00" stroke="#555" stroke-width="0.8" />
<line x1="432.70" y1="300.60" x2="432.70" y2="320.00" stroke="#8c8c8c" stroke-width="0.8" />
<line x1="431.00" y1="300.60" x2="434.40" y2="300.60" stroke="#555" stroke-width="0.8" />
<line x1="431.00" y1="320.00" x2="434.40" y2="320.00" stroke="#555" stroke-width="0.8" />
<line x1="436.40" y1="306.60" x2="436.40" y2="325.80" stroke="#8c8c8c" stroke-width="0.8" />
<line x1="434.70" y1="306.60" x2="438.10" y2="306.60" stroke="#555" stroke-width="0.8" />
<line x1="434.70" y1="325.80" x2="438.10" y2="325.80" stroke="#555" stroke-width="0.8" />
<line x1="440.10" y1="309.80" x2="440.10" y2="323.60" stroke="#8c8c8c" stroke-width="0.8" />
<line x1="438.40" y1="309.80" x2="441.80" y2="309.80" stroke="#555" stroke-width="0.8" />
<line x1="438.40" y1="323.60" x2="441.80" y2="323.60" stroke="#555" stroke-width="0.8" />
<line x1="443.80" y1="313.00" x2="443.80" y2="325.40" stroke="#8c8c8c" stroke-width="0.8" />
<line x1="442.10" y1="313.00" x2="445.50" y2="313.00" stroke="#555" stroke-width="0.8" />
<line x1="442.10" y1="325.40" x2="445.50" y2="325.40" stroke="#555" stroke-width="0.8" />
<line x1="447.50" y1="317.10" x2="447.50" y2="325.70" stroke="#8c8c8c" stroke-width="0.8" />
<line x1="445.80" y1="317.10" x2="449.20" y2="317.10" stroke="#555" stroke-width="0.8" />
<line x1="445.80" y1="325.70" x2="449.20" y2="325.70" stroke="#555" stroke-width="0.8" />
<line x1="451.20" y1="319.60" x2="451.20" y2="325.60" stroke="#8c8c8c" stroke-width="0.8" />
<line x1="449.50" y1="319.60" x2="452.90" y2="319.60" stroke="#555" stroke-width="0.8" />
<line x1="449.50" y1="325.60" x2="452.90" y2="325.60" stroke="#555" stroke-width="0.8" />
<line x1="454.90" y1="320.70" x2="454.90" y2="325.70" stroke="#8c8c8c" stroke-width="0.8" />
<line x1="453.20" y1="320.70" x2="456.60" y2="320.70" stroke="#555" stroke-width="0.8" />
<line x1="453.20" y1="325.70" x2="456.60" y2="325.70" stroke="#555" stroke-width="0.8" />
<line x1="458.60" y1="321.20" x2="458.60" y2="325.20" stroke="#8c8c8c" stroke-width="0.8" />
<line x1="456.90" y1="321.20" x2="460.30" y2="321.20" stroke="#555" stroke-width="0.8" />
<line x1="456.90" y1="325.20" x2="460.30" y2="325.20" stroke="#555" stroke-width="0.8" />
<line x1="462.30" y1="320.90" x2="462.30" y2="324.90" stroke="#8c8c8c" stroke-width="0.8" />
<line x1="460.60" y1="320.90" x2="464.00" y2="320.90" stroke="#555" stroke-width="0.8" />
<line x1="460.60" y1="324.90" x2="464.00" y2="324.90" stroke="#555" stroke-width="0.8" />
<line x1="292.10" y1="320.50" x2="292.10" y2="325.70" stroke="#f6abab" stroke-width="0.8" />
<line x1="290.40" y1="320.50" x2="293.80" y2="320.50" stroke="#f08585" stroke-width="0.8" />
<line x1="290.40" y1="325.70" x2="293.80" y2="325.70" stroke="#f08585" stroke-width="0.8" />
<line x1="295.80" y1="318.30" x2="295.80" y2="326.30" stroke="#f6abab" stroke-width="0.8" />
<line x1="294.10" y1="318.30" x2="297.50" y2="318.30" stroke="#f08585" stroke-width="0.8" />
<line x1="294.10" y1="326.30" x2="297.50" y2="326.30" stroke="#f08585" stroke-width="0.8" />
<line x1="299.50" y1="316.60" x2="299.50" y2="328.00" stroke="#f6abab" stroke-width="0.8" />
<line x1="297.80" y1="316.60" x2="301.20" y2="316.60" stroke="#f08585" stroke-width="0.8" />
<line x1="297.80" y1="328.00" x2="301.20" y2="328.00" stroke="#f08585" stroke-width="0.8" />
<line x1="303.20" y1="321.60" x2="303.20" y2="324.60" stroke="#f6abab" stroke-width="0.8" />
<line x1="301.50" y1="321.60" x2="304.90" y2="321.60" stroke="#f08585" stroke-width="0.8" />
<line x1="301.50" y1="324.60" x2="304.90" y2="324.60" stroke="#f08585" stroke-width="0.8" />
<line x1="314.30" y1="321.40" x2="314.30" y2="327.40" stroke="#f6abab" stroke-width="0.8" />
<line x1="312.60" y1="321.40" x2="316.00" y2="321.40" stroke="#f08585" stroke-width="0.8" />
<line x1="312.60" y1="327.40" x2="316.00" y2="327.40" stroke="#f08585" stroke-width="0.8" />
<line x1="347.60" y1="322.90" x2="347.60" y2="325.90" stroke="#f6abab" stroke-width="0.8" />
<line x1="345.90" y1="322.90" x2="349.30" y2="322.90" stroke="#f08585" stroke-width="0.8" />
<line x1="345.90" y1="325.90" x2="349.30" y2="325.90" stroke="#f08585" stroke-width="0.8" />
<line x1="351.30" y1="319.80" x2="351.30" y2="327.80" stroke="#f6abab" stroke-width="0.8" />
<line x1="349.60" y1="319.80" x2="353.00" y2="319.80" stroke="#f08585" stroke-width="0.8" />
<line x1="349.60" y1="327.80" x2="353.00" y2="327.80" stroke="#f08585" stroke-width="0.8" />
<line x1="355.00" y1="306.00" x2="355.00" y2="330.00" stroke="#f6abab" stroke-width="0.8" />
<line x1="353.30" y1="306.00" x2="356.70" y2="306.00" stroke="#f08585" stroke-width="0.8" />
<line x1="353.30" y1="330.00" x2="356.70" y2="330.00" stroke="#f08585" stroke-width="0.8" />
<line x1="358.70" y1="284.00" x2="358.70" y2="331.00" stroke="#f6abab" stroke-width="0.8" />
<line x1="357.00" y1="284.00" x2="360.40" y2="284.00" stroke="#f08585" stroke-width="0.8" />
<line x1="357.00" y1="331.00" x2="360.40" y2="331.00" stroke="#f08585" stroke-width="0.8" />
<line x1="362.40" y1="286.50" x2="362.40" y2="318.50" stroke="#f6abab" stroke-width="0.8" />
<line x1="360.70" y1="286.50" x2="364.10" y2="286.50" stroke="#f08585" stroke-width="0.8" />
<line x1="360.70" y1="318.50" x2="364.10" y2="318.50" stroke="#f08585" stroke-width="0.8" />
<line x1="366.10" y1="274.40" x2="366.10" y2="324.40" stroke="#f6abab" stroke-width="0.8" />
<line x1="364.40" y1="274.40" x2="367.80" y2="274.40" stroke="#f08585" stroke-width="0.8" />
<line x1="364.40" y1="324.40" x2="367.80" y2="324.40" stroke="#f08585" stroke-width="0.8" />
<line x1="369.80" y1="284.30" x2="369.80" y2="323.30" stroke="#f6abab" stroke-width="0.8" />
<line x1="368.10" y1="284.30" x2="371.50" y2="284.30" stroke="#f08585" stroke-width="0.8" />
<line x1="368.10" y1="323.30" x2="371.50" y2="323.30" stroke="#f08585" stroke-width="0.8" />
<line x1="373.50" y1="255.00" x2="373.50" y2="329.00" stroke="#f6abab" stroke-width="0.8" />
<line x1="371.80" y1="255.00" x2="375.20" y2="255.00" stroke="#f08585" stroke-width="0.8" />
<line x1="371.80" y1="329.00" x2="375.20" y2="329.00" stroke="#f08585" stroke-width="0.8" />
<line x1="377.20" y1="254.10" x2="377.20" y2="325.90" stroke="#f6abab" stroke-width="0.8" />
<line x1="375.50" y1="254.10" x2="378.90" y2="254.10" stroke="#f08585" stroke-width="0.8" />
<line x1="375.50" y1="325.90" x2="378.90" y2="325.90" stroke="#f08585" stroke-width="0.8" />
<line x1="380.90" y1="286.70" x2="380.90" y2="316.30" stroke="#f6abab" stroke-width="0.8" />
<line x1="379.20" y1="286.70" x2="382.60" y2="286.70" stroke="#f08585" stroke-width="0.8" />
<line x1="379.20" y1="316.30" x2="382.60" y2="316.30" stroke="#f08585" stroke-width="0.8" />
<line x1="384.60" y1="267.50" x2="384.60" y2="314.50" stroke="#f6abab" stroke-width="0.8" />
<line x1="382.90" y1="267.50" x2="386.30" y2="267.50" stroke="#f08585" stroke-width="0.8" />
<line x1="382.90" y1="314.50" x2="386.30" y2="314.50" stroke="#f08585" stroke-width="0.8" />
<line x1="388.30" y1="271.30" x2="388.30" y2="318.30" stroke="#f6abab" stroke-width="0.8" />
<line x1="386.60" y1="271.30" x2="390.00" y2="271.30" stroke="#f08585" stroke-width="0.8" />
<line x1="386.60" y1="318.30" x2="390.00" y2="318.30" stroke="#f08585" stroke-width="0.8" />
<line x1="392.00" y1="263.30" x2="392.00" y2="324.30" stroke="#f6abab" stroke-width="0.8" />
<line x1="390.30" y1="263.30" x2="393.70" y2="263.30" stroke="#f08585" stroke-width="0.8" />
<line x1="390.30" y1="324.30" x2="393.70" y2="324.30" stroke="#f08585" stroke-width="0.8" />
<line x1="395.70" y1="260.60" x2="395.70" y2="312.60" stroke="#f6abab" stroke-width="0.8" />
<line x1="394.00" y1="260.60" x2="397.40" y2="260.60" stroke="#f08585" stroke-width="0.8" />
<line x1="394.00" y1="312.60" x2="397.40" y2="312.60" stroke="#f08585" stroke-width="0.8" />
<line x1="399.40" y1="261.80" x2="399.40" y2="307.00" stroke="#f6abab" stroke-width="0.8" />
<line x1="397.70" y1="261.80" x2="401.10" y2="261.80" stroke="#f08585" stroke-width="0.8" />
<line x1="397.70" y1="307.00" x2="401.10" y2="307.00" stroke="#f08585" stroke-width="0.8" />
<line x1="403.10" y1="271.60" x2="403.10" y2="314.40" stroke="#f6abab" stroke-width="0.8" />
<line x1="401.40" y1="271.60" x2="404.80" y2="271.60" stroke="#f08585" stroke-width="0.8" />
<line x1="401.40" y1="314.40" x2="404.80" y2="314.40" stroke="#f08585" stroke-width="0.8" />
<line x1="406.80" y1="281.80" x2="406.80" y2="319.80" stroke="#f6abab" stroke-width="0.8" />
<line x1="405.10" y1="281.80" x2="408.50" y2="281.80" stroke="#f08585" stroke-width="0.8" />
<line x1="405.10" y1="319.80" x2="408.50" y2="319.80" stroke="#f08585" stroke-width="0.8" />
<line x1="410.50" y1="294.10" x2="410.50" y2="329.10" stroke="#f6abab" stroke-width="0.8" />
<line x1="408.80" y1="294.10" x2="412.20" y2="294.10" stroke="#f08585" stroke-width="0.8" />
<line x1="408.80" y1="329.10" x2="412.20" y2="329.10" stroke="#f08585" stroke-width="0.8" />
<line x1="414.20" y1="273.90" x2="414.20" y2="336.90" stroke="#f6abab" stroke-width="0.8" />
<line x1="412.50" y1="273.90" x2="415.90" y2="273.90" stroke="#f08585" stroke-width="0.8" />
<line x1="412.50" y1="336.90" x2="415.90" y2="336.90" stroke="#f08585" stroke-width="0.8" />
<line x1="417.90" y1="245.00" x2="417.90" y2="339.30" stroke="#f6abab" stroke-width="0.8" />
<line x1="416.20" y1="245.00" x2="419.60" y2="245.00" stroke="#f08585" stroke-width="0.8" />
<line x1="421.60" y1="310.00" x2="421.60" y2="324.00" stroke="#f6abab" stroke-width="0.8" />
<line x1="419.90" y1="310.00" x2="423.30" y2="310.00" stroke="#f08585" stroke-width="0.8" />
<line x1="419.90" y1="324.00" x2="423.30" y2="324.00" stroke="#f08585" stroke-width="0.8" />
<line x1="425.30" y1="315.80" x2="425.30" y2="324.80" stroke="#f6abab" stroke-width="0.8" />
<line x1="423.60" y1="315.80" x2="427.00" y2="315.80" stroke="#f08585" stroke-width="0.8" />
<line x1="423.60" y1="324.80" x2="427.00" y2="324.80" stroke="#f08585" stroke-width="0.8" />
<line x1="429.00" y1="318.20" x2="429.00" y2="322.20" stroke="#f6abab" stroke-width="0.8" />
<line x1="427.30" y1="318.20" x2="430.70" y2="318.20" stroke="#f08585" stroke-width="0.8" />
<line x1="427.30" y1="322.20" x2="430.70" y2="322.20" stroke="#f08585" stroke-width="0.8" />
<line x1="432.70" y1="319.90" x2="432.70" y2="325.90" stroke="#f6abab" stroke-width="0.8" />
<line x1="431.00" y1="319.90" x2="434.40" y2="319.90" stroke="#f08585" stroke-width="0.8" />
<line x1="431.00" y1="325.90" x2="434.40" y2="325.90" stroke="#f08585" stroke-width="0.8" />
<line x1="436.40" y1="315.20" x2="436.40" y2="323.20" stroke="#f6abab" stroke-width="0.8" />
<line x1="434.70" y1="315.20" x2="438.10" y2="315.20" stroke="#f08585" stroke-width="0.8" />
<line x1="434.70" y1="323.20" x2="438.10" y2="323.20" stroke="#f08585" stroke-width="0.8" />
<line x1="440.10" y1="320.60" x2="440.10" y2="326.60" stroke="#f6abab" stroke-width="0.8" />
<line x1="438.40" y1="320.60" x2="441.80" y2="320.60" stroke="#f08585" stroke-width="0.8" />
<line x1="438.40" y1="326.60" x2="441.80" y2="326.60" stroke="#f08585" stroke-width="0.8" />
<line x1="443.80" y1="320.60" x2="443.80" y2="324.60" stroke="#f6abab" stroke-width="0.8" />
<line x1="442.10" y1="320.60" x2="445.50" y2="320.60" stroke="#f08585" stroke-width="0.8" />
<line x1="442.10" y1="324.60" x2="445.50" y2="324.60" stroke="#f08585" stroke-width="0.8" />
<line x1="447.50" y1="321.20" x2="447.50" y2="325.20" stroke="#f6abab" stroke-width="0.8" />
<line x1="445.80" y1="321.20" x2="449.20" y2="321.20" stroke="#f08585" stroke-width="0.8" />
<line x1="445.80" y1="325.20" x2="449.20" y2="325.20" stroke="#f08585" stroke-width="0.8" />
<line x1="451.20" y1="321.60" x2="451.20" y2="325.60" stroke="#f6abab" stroke-width="0.8" />
<line x1="449.50" y1="321.60" x2="452.90" y2="321.60" stroke="#f08585" stroke-width="0.8" />
<line x1="449.50" y1="325.60" x2="452.90" y2="325.60" stroke="#f08585" stroke-width="0.8" />
<line x1="454.90" y1="321.60" x2="454.90" y2="325.60" stroke="#f6abab" stroke-width="0.8" />
<line x1="453.20" y1="321.60" x2="456.60" y2="321.60" stroke="#f08585" stroke-width="0.8" />
<line x1="453.20" y1="325.60" x2="456.60" y2="325.60" stroke="#f08585" stroke-width="0.8" />
<line x1="458.60" y1="321.60" x2="458.60" y2="325.60" stroke="#f6abab" stroke-width="0.8" />
<line x1="456.90" y1="321.60" x2="460.30" y2="321.60" stroke="#f08585" stroke-width="0.8" />
<line x1="456.90" y1="325.60" x2="460.30" y2="325.60" stroke="#f08585" stroke-width="0.8" />
<line x1="462.30" y1="314.90" x2="462.30" y2="328.90" stroke="#f6abab" stroke-width="0.8" />
<line x1="460.60" y1="314.90" x2="464.00" y2="314.90" stroke="#f08585" stroke-width="0.8" />
<line x1="460.60" y1="328.90" x2="464.00" y2="328.90" stroke="#f08585" stroke-width="0.8" />
<polyline points="288.40,324.40 292.10,321.90 295.80,323.50 299.50,324.00 303.20,324.40 306.90,323.70 310.60,324.40 314.30,324.40 318.00,324.40 321.70,324.40 325.40,324.40 329.10,324.40 332.80,323.70 336.50,320.30 340.20,319.90 343.90,316.00 347.60,310.50 351.30,306.00 355.00,293.00 358.70,297.50 362.40,285.20 366.10,294.60 369.80,304.00 373.50,293.30 377.20,299.20 380.90,292.20 384.60,294.30 388.30,292.20 392.00,299.20 395.70,289.50 399.40,285.80 403.10,294.00 406.80,298.50 410.50,302.30 414.20,297.00 417.90,299.00 421.60,305.50 425.30,307.00 429.00,308.10 432.70,310.30 436.40,316.20 440.10,316.70 443.80,319.20 447.50,321.40 451.20,322.60 454.90,323.20 458.60,323.20 462.30,322.90 466.00,324.10" fill="none" stroke="#000" stroke-width="1.5" stroke-linejoin="round"/>
<polyline points="288.40,324.40 292.10,323.10 295.80,322.30 299.50,322.30 303.20,323.10 306.90,324.40 310.60,324.40 314.30,324.40 318.00,324.40 321.70,324.40 325.40,324.40 329.10,324.40 332.80,324.40 336.50,324.40 340.20,324.40 343.90,324.40 347.60,324.40 351.30,323.80 355.00,318.00 358.70,307.50 362.40,302.50 366.10,299.40 369.80,303.80 373.50,292.00 377.20,290.00 380.90,301.50 384.60,291.00 388.30,294.80 392.00,293.80 395.70,286.60 399.40,284.40 403.10,293.00 406.80,300.80 410.50,311.60 414.20,305.40 417.90,297.00 421.60,317.00 425.30,320.30 429.00,320.20 432.70,322.90 436.40,319.20 440.10,323.60 443.80,322.60 447.50,323.20 451.20,323.60 454.90,323.60 458.60,323.60 462.30,321.90 466.00,324.10" fill="none" stroke="#e82020" stroke-width="1.3" stroke-linejoin="round"/>
<text x="435.0" y="274.4" font-size="12.9" fill="#111" text-anchor="start" font-weight="normal" >Work day</text>
<text x="435.0" y="290.0" font-size="12.9" fill="#e82020" text-anchor="start" font-weight="normal" >Holiday</text>
<text x="317.3" y="367.2" font-size="16" fill="#444" text-anchor="start" font-weight="normal" >Time of day (hours)</text>
<text transform="translate(237.0,305.2) rotate(-90)" font-size="16" fill="#444" text-anchor="middle">Mean responses</text>
<text transform="translate(255.0,307.4) rotate(-90)" font-size="16" fill="#444" text-anchor="middle">per session</text>
<line x1="559.50" y1="179.40" x2="559.50" y2="293.60" stroke="#c4c4c4" stroke-width="1" />
<line x1="559.00" y1="293.60" x2="682.70" y2="293.60" stroke="#c4c4c4" stroke-width="1" />
<line x1="559.50" y1="293.20" x2="561.20" y2="293.20" stroke="#c4c4c4" stroke-width="1" />
<text x="557.5" y="296.7" font-size="12.6" fill="#444" text-anchor="end" font-weight="normal" >0</text>
<line x1="559.50" y1="256.20" x2="561.20" y2="256.20" stroke="#c4c4c4" stroke-width="1" />
<text x="557.5" y="259.7" font-size="12.6" fill="#444" text-anchor="end" font-weight="normal" >100</text>
<line x1="559.50" y1="219.20" x2="561.20" y2="219.20" stroke="#c4c4c4" stroke-width="1" />
<text x="557.5" y="222.7" font-size="12.6" fill="#444" text-anchor="end" font-weight="normal" >200</text>
<line x1="559.50" y1="182.20" x2="561.20" y2="182.20" stroke="#c4c4c4" stroke-width="1" />
<text x="557.5" y="185.7" font-size="12.6" fill="#444" text-anchor="end" font-weight="normal" >300</text>
<rect x="566.80" y="203.00" width="13.4" height="90.20" fill="#5fa2cf" stroke="#222" stroke-width="1"/>
<rect x="582.60" y="200.20" width="13.4" height="93.00" fill="#e06c66" stroke="#222" stroke-width="1"/>
<rect x="606.70" y="200.10" width="13.4" height="93.10" fill="#5fa2cf" stroke="#222" stroke-width="1"/>
<rect x="622.70" y="205.30" width="13.4" height="87.90" fill="#e06c66" stroke="#222" stroke-width="1"/>
<rect x="646.30" y="201.70" width="13.4" height="91.50" fill="#5fa2cf" stroke="#222" stroke-width="1"/>
<rect x="661.90" y="201.70" width="13.4" height="91.50" fill="#e06c66" stroke="#222" stroke-width="1"/>
<rect x="636.6" y="161.6" width="9.7" height="6.6" fill="#5fa2cf" stroke="#222" stroke-width="1"/>
<rect x="636.6" y="175.7" width="9.7" height="6.9" fill="#e06c66" stroke="#222" stroke-width="1"/>
<text x="651.2" y="168.7" font-size="11.6" fill="#111" text-anchor="start" font-weight="normal" >Cool</text>
<text x="651.5" y="182.9" font-size="11.6" fill="#111" text-anchor="start" font-weight="normal" >Warm</text>
<text transform="translate(528.7,241.0) rotate(-90)" font-size="16" fill="#444" text-anchor="middle">Number of responses</text>
<text x="579.6" y="366.8" font-size="16" fill="#444" text-anchor="start" font-weight="normal" >Sound type</text>
<text transform="translate(600.2,304.0) rotate(-45)" font-size="12.9" fill="#444" text-anchor="end">No sound</text>
<text transform="translate(639.0,304.0) rotate(-45)" font-size="12.9" fill="#444" text-anchor="end">Synthetic</text>
<text transform="translate(676.0,306.2) rotate(-45)" font-size="12.9" fill="#444" text-anchor="end">Natural</text>
</svg></body></html>
